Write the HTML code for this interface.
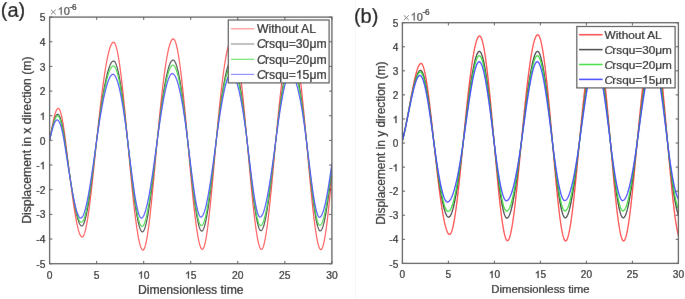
<!DOCTYPE html>
<html><head><meta charset="utf-8"><style>
html,body{margin:0;padding:0;background:#fff;}
body{width:685px;height:299px;overflow:hidden;position:relative;}
svg{position:absolute;left:0;top:0;will-change:transform;}
text{font-family:"Liberation Sans", sans-serif;fill:#1c1c1c;}
.t text, text.t{stroke:#1c1c1c;stroke-width:0.22px;}
</style></head><body>
<svg width="685" height="299" viewBox="0 0 685 299">
<defs><filter id="soft" x="0" y="0" width="685" height="299" filterUnits="userSpaceOnUse"><feConvolveMatrix order="3" kernelMatrix="0.005 0.035 0.005 0.035 0.84 0.035 0.005 0.035 0.005" edgeMode="duplicate" preserveAlpha="true"/></filter></defs>
<g filter="url(#soft)">
<rect x="0" y="0" width="685" height="299" fill="#fff"/>
<rect x="355" y="0" width="1" height="299" fill="#f6f6f6"/>
<clipPath id="cL"><rect x="49.6" y="17.1" width="282.30" height="246.60"/></clipPath>
<g clip-path="url(#cL)" fill="none" stroke-width="1.15" stroke-linejoin="round">
<polyline stroke="#ff4a4a" points="49.60,140.40 50.07,137.76 50.54,135.13 51.01,132.55 51.48,130.02 51.95,127.56 52.42,125.17 52.89,122.89 53.36,120.71 53.83,118.67 54.30,116.76 54.78,115.01 55.25,113.43 55.72,112.04 56.19,110.84 56.66,109.86 57.13,109.11 57.60,108.61 58.07,108.36 58.54,108.40 59.01,108.76 59.48,109.44 59.95,110.42 60.42,111.69 60.89,113.25 61.36,115.08 61.83,117.17 62.30,119.51 62.77,122.09 63.24,124.89 63.72,127.91 64.19,131.14 64.66,134.56 65.13,138.16 65.60,141.92 66.07,145.73 66.54,149.57 67.01,153.42 67.48,157.27 67.95,161.12 68.42,164.96 68.89,168.79 69.36,172.59 69.83,176.35 70.30,180.08 70.77,183.75 71.24,187.37 71.71,190.92 72.18,194.40 72.65,197.80 73.12,201.12 73.60,204.34 74.07,207.45 74.54,210.45 75.01,213.34 75.48,216.10 75.95,218.72 76.42,221.20 76.89,223.53 77.36,225.71 77.83,227.72 78.30,229.55 78.77,231.21 79.24,232.67 79.71,233.94 80.18,235.00 80.65,235.86 81.12,236.49 81.59,236.89 82.06,237.06 82.53,236.97 83.01,236.57 83.48,235.88 83.95,234.91 84.42,233.66 84.89,232.16 85.36,230.40 85.83,228.40 86.30,226.18 86.77,223.73 87.24,221.07 87.71,218.22 88.18,215.18 88.65,211.96 89.12,208.57 89.59,205.03 90.06,201.35 90.53,197.53 91.00,193.58 91.47,189.52 91.94,185.36 92.42,181.11 92.89,176.77 93.36,172.36 93.83,167.89 94.30,163.38 94.77,158.82 95.24,154.23 95.71,149.62 96.18,145.01 96.65,140.40 97.12,135.82 97.59,131.31 98.06,126.86 98.53,122.48 99.00,118.17 99.47,113.94 99.94,109.79 100.41,105.72 100.88,101.75 101.35,97.86 101.83,94.07 102.30,90.39 102.77,86.81 103.24,83.33 103.71,79.97 104.18,76.72 104.65,73.60 105.12,70.60 105.59,67.73 106.06,64.98 106.53,62.38 107.00,59.91 107.47,57.59 107.94,55.42 108.41,53.39 108.88,51.52 109.35,49.82 109.82,48.27 110.29,46.89 110.76,45.68 111.24,44.65 111.71,43.80 112.18,43.13 112.65,42.64 113.12,42.35 113.59,42.25 114.06,42.41 114.53,42.87 115.00,43.62 115.47,44.65 115.94,45.96 116.41,47.54 116.88,49.38 117.35,51.46 117.82,53.78 118.29,56.33 118.76,59.10 119.23,62.08 119.70,65.27 120.17,68.65 120.65,72.21 121.12,75.94 121.59,79.84 122.06,83.90 122.53,88.11 123.00,92.45 123.47,96.92 123.94,101.51 124.41,106.21 124.88,111.02 125.35,115.91 125.82,120.89 126.29,125.94 126.76,131.06 127.23,136.23 127.70,141.45 128.17,146.66 128.64,151.84 129.11,156.98 129.58,162.07 130.06,167.10 130.53,172.06 131.00,176.96 131.47,181.76 131.94,186.48 132.41,191.09 132.88,195.60 133.35,199.99 133.82,204.25 134.29,208.38 134.76,212.37 135.23,216.21 135.70,219.88 136.17,223.39 136.64,226.72 137.11,229.87 137.58,232.82 138.05,235.58 138.52,238.12 138.99,240.44 139.47,242.53 139.94,244.39 140.41,246.01 140.88,247.37 141.35,248.47 141.82,249.30 142.29,249.85 142.76,250.11 143.23,250.07 143.70,249.67 144.17,248.92 144.64,247.83 145.11,246.42 145.58,244.70 146.05,242.68 146.52,240.38 146.99,237.80 147.46,234.97 147.93,231.89 148.40,228.58 148.88,225.06 149.35,221.32 149.82,217.40 150.29,213.30 150.76,209.03 151.23,204.61 151.70,200.06 152.17,195.37 152.64,190.58 153.11,185.68 153.58,180.70 154.05,175.65 154.52,170.54 154.99,165.38 155.46,160.19 155.93,154.98 156.40,149.76 156.87,144.55 157.34,139.37 157.81,134.24 158.29,129.21 158.76,124.26 159.23,119.41 159.70,114.66 160.17,110.02 160.64,105.48 161.11,101.05 161.58,96.74 162.05,92.55 162.52,88.49 162.99,84.55 163.46,80.75 163.93,77.08 164.40,73.56 164.87,70.17 165.34,66.94 165.81,63.86 166.28,60.94 166.75,58.18 167.22,55.59 167.70,53.16 168.17,50.91 168.64,48.84 169.11,46.95 169.58,45.24 170.05,43.73 170.52,42.41 170.99,41.29 171.46,40.37 171.93,39.66 172.40,39.16 172.87,38.87 173.34,38.81 173.81,39.02 174.28,39.52 174.75,40.30 175.22,41.36 175.69,42.68 176.16,44.26 176.63,46.10 177.11,48.17 177.58,50.48 178.05,53.01 178.52,55.76 178.99,58.72 179.46,61.88 179.93,65.23 180.40,68.77 180.87,72.48 181.34,76.36 181.81,80.40 182.28,84.58 182.75,88.92 183.22,93.38 183.69,97.97 184.16,102.69 184.63,107.50 185.10,112.43 185.57,117.44 186.04,122.54 186.52,127.72 186.99,132.96 187.46,138.26 187.93,143.61 188.40,148.94 188.87,154.24 189.34,159.49 189.81,164.70 190.28,169.85 190.75,174.93 191.22,179.92 191.69,184.83 192.16,189.63 192.63,194.32 193.10,198.90 193.57,203.34 194.04,207.64 194.51,211.78 194.98,215.77 195.45,219.58 195.93,223.22 196.40,226.66 196.87,229.90 197.34,232.93 197.81,235.73 198.28,238.31 198.75,240.64 199.22,242.72 199.69,244.54 200.16,246.08 200.63,247.35 201.10,248.32 201.57,248.98 202.04,249.34 202.51,249.37 202.98,249.02 203.45,248.30 203.92,247.23 204.39,245.81 204.86,244.07 205.34,242.01 205.81,239.65 206.28,237.01 206.75,234.10 207.22,230.94 207.69,227.53 208.16,223.89 208.63,220.05 209.10,216.00 209.57,211.78 210.04,207.38 210.51,202.83 210.98,198.14 211.45,193.32 211.92,188.40 212.39,183.37 212.86,178.27 213.33,173.10 213.80,167.87 214.27,162.61 214.75,157.32 215.22,152.02 215.69,146.73 216.16,141.45 216.63,136.23 217.10,131.09 217.57,126.05 218.04,121.11 218.51,116.27 218.98,111.54 219.45,106.92 219.92,102.42 220.39,98.04 220.86,93.78 221.33,89.64 221.80,85.64 222.27,81.77 222.74,78.04 223.21,74.45 223.68,71.02 224.16,67.73 224.63,64.59 225.10,61.62 225.57,58.81 226.04,56.17 226.51,53.69 226.98,51.39 227.45,49.27 227.92,47.34 228.39,45.59 228.86,44.03 229.33,42.67 229.80,41.50 230.27,40.54 230.74,39.79 231.21,39.24 231.68,38.91 232.15,38.80 232.62,38.94 233.09,39.34 233.57,40.00 234.04,40.92 234.51,42.08 234.98,43.49 235.45,45.12 235.92,46.99 236.39,49.07 236.86,51.37 237.33,53.88 237.80,56.58 238.27,59.48 238.74,62.57 239.21,65.84 239.68,69.28 240.15,72.89 240.62,76.65 241.09,80.58 241.56,84.65 242.03,88.86 242.50,93.20 242.98,97.67 243.45,102.26 243.92,106.97 244.39,111.78 244.86,116.69 245.33,121.70 245.80,126.79 246.27,131.97 246.74,137.22 247.21,142.53 247.68,147.85 248.15,153.16 248.62,158.44 249.09,163.68 249.56,168.88 250.03,174.02 250.50,179.08 250.97,184.06 251.44,188.95 251.91,193.74 252.39,198.40 252.86,202.94 253.33,207.33 253.80,211.58 254.27,215.66 254.74,219.56 255.21,223.28 255.68,226.80 256.15,230.11 256.62,233.20 257.09,236.06 257.56,238.67 258.03,241.03 258.50,243.12 258.97,244.93 259.44,246.45 259.91,247.67 260.38,248.57 260.85,249.15 261.32,249.39 261.80,249.28 262.27,248.83 262.74,248.03 263.21,246.91 263.68,245.48 264.15,243.74 264.62,241.72 265.09,239.42 265.56,236.86 266.03,234.05 266.50,231.01 266.97,227.73 267.44,224.25 267.91,220.56 268.38,216.69 268.85,212.64 269.32,208.43 269.79,204.06 270.26,199.56 270.73,194.94 271.21,190.20 271.68,185.36 272.15,180.43 272.62,175.43 273.09,170.37 273.56,165.25 274.03,160.10 274.50,154.92 274.97,149.73 275.44,144.54 275.91,139.37 276.38,134.25 276.85,129.21 277.32,124.26 277.79,119.40 278.26,114.64 278.73,109.97 279.20,105.41 279.67,100.96 280.14,96.63 280.62,92.41 281.09,88.31 281.56,84.35 282.03,80.51 282.50,76.81 282.97,73.26 283.44,69.85 283.91,66.59 284.38,63.49 284.85,60.55 285.32,57.77 285.79,55.16 286.26,52.73 286.73,50.48 287.20,48.41 287.67,46.53 288.14,44.84 288.61,43.35 289.08,42.06 289.55,40.98 290.03,40.11 290.50,39.46 290.97,39.03 291.44,38.82 291.91,38.85 292.38,39.15 292.85,39.72 293.32,40.55 293.79,41.64 294.26,42.97 294.73,44.54 295.20,46.35 295.67,48.38 296.14,50.63 296.61,53.09 297.08,55.76 297.55,58.62 298.02,61.68 298.49,64.92 298.96,68.34 299.44,71.93 299.91,75.68 300.38,79.59 300.85,83.65 301.32,87.85 301.79,92.18 302.26,96.65 302.73,101.24 303.20,105.94 303.67,110.74 304.14,115.65 304.61,120.66 305.08,125.75 305.55,130.92 306.02,136.16 306.49,141.47 306.96,146.79 307.43,152.10 307.90,157.38 308.38,162.63 308.85,167.83 309.32,172.97 309.79,178.04 310.26,183.03 310.73,187.92 311.20,192.71 311.67,197.39 312.14,201.94 312.61,206.36 313.08,210.62 313.55,214.73 314.02,218.67 314.49,222.42 314.96,225.98 315.43,229.34 315.90,232.48 316.37,235.39 316.84,238.07 317.31,240.50 317.78,242.66 318.26,244.56 318.73,246.17 319.20,247.49 319.67,248.51 320.14,249.21 320.61,249.58 321.08,249.61 321.55,249.28 322.02,248.59 322.49,247.55 322.96,246.17 323.43,244.48 323.90,242.49 324.37,240.20 324.84,237.63 325.31,234.81 325.78,231.72 326.25,228.41 326.72,224.86 327.19,221.11 327.67,217.16 328.14,213.03 328.61,208.73 329.08,204.27 329.55,199.67 330.02,194.95 330.49,190.10 330.96,185.16 331.43,180.12 331.90,175.01"/>
<polyline stroke="#454545" points="49.60,140.40 50.07,138.07 50.54,135.76 51.01,133.50 51.48,131.30 51.95,129.16 52.42,127.12 52.89,125.17 53.36,123.33 53.83,121.63 54.30,120.06 54.78,118.65 55.25,117.41 55.72,116.36 56.19,115.50 56.66,114.86 57.13,114.44 57.60,114.27 58.07,114.34 58.54,114.67 59.01,115.24 59.48,116.05 59.95,117.10 60.42,118.37 60.89,119.87 61.36,121.58 61.83,123.50 62.30,125.62 62.77,127.95 63.24,130.47 63.72,133.17 64.19,136.06 64.66,139.13 65.13,142.34 65.60,145.59 66.07,148.88 66.54,152.18 67.01,155.49 67.48,158.82 67.95,162.14 68.42,165.45 68.89,168.75 69.36,172.02 69.83,175.27 70.30,178.47 70.77,181.64 71.24,184.75 71.71,187.81 72.18,190.80 72.65,193.71 73.12,196.55 73.60,199.30 74.07,201.96 74.54,204.52 75.01,206.97 75.48,209.30 75.95,211.52 76.42,213.60 76.89,215.55 77.36,217.35 77.83,219.00 78.30,220.50 78.77,221.83 79.24,222.99 79.71,223.97 80.18,224.76 80.65,225.36 81.12,225.76 81.59,225.95 82.06,225.92 82.53,225.63 83.01,225.09 83.48,224.29 83.95,223.27 84.42,222.01 84.89,220.54 85.36,218.86 85.83,216.98 86.30,214.91 86.77,212.66 87.24,210.24 87.71,207.66 88.18,204.93 88.65,202.05 89.12,199.05 89.59,195.91 90.06,192.67 90.53,189.31 91.00,185.86 91.47,182.33 91.94,178.72 92.42,175.04 92.89,171.30 93.36,167.51 93.83,163.68 94.30,159.82 94.77,155.94 95.24,152.05 95.71,148.16 96.18,144.27 96.65,140.40 97.12,136.57 97.59,132.81 98.06,129.11 98.53,125.48 99.00,121.92 99.47,118.44 99.94,115.03 100.41,111.70 100.88,108.46 101.35,105.29 101.83,102.22 102.30,99.23 102.77,96.34 103.24,93.54 103.71,90.83 104.18,88.23 104.65,85.73 105.12,83.33 105.59,81.04 106.06,78.86 106.53,76.79 107.00,74.84 107.47,73.01 107.94,71.29 108.41,69.70 108.88,68.23 109.35,66.89 109.82,65.68 110.29,64.60 110.76,63.66 111.24,62.86 111.71,62.19 112.18,61.67 112.65,61.30 113.12,61.07 113.59,60.99 114.06,61.11 114.53,61.47 115.00,62.06 115.47,62.87 115.94,63.89 116.41,65.13 116.88,66.57 117.35,68.21 117.82,70.04 118.29,72.05 118.76,74.24 119.23,76.61 119.70,79.14 120.17,81.83 120.65,84.67 121.12,87.66 121.59,90.79 122.06,94.05 122.53,97.44 123.00,100.95 123.47,104.57 123.94,108.30 124.41,112.14 124.88,116.07 125.35,120.08 125.82,124.18 126.29,128.36 126.76,132.60 127.23,136.91 127.70,141.28 128.17,145.65 128.64,150.02 129.11,154.36 129.58,158.68 130.06,162.96 130.53,167.19 131.00,171.36 131.47,175.47 131.94,179.51 132.41,183.46 132.88,187.32 133.35,191.09 133.82,194.74 134.29,198.28 134.76,201.69 135.23,204.96 135.70,208.09 136.17,211.07 136.64,213.89 137.11,216.53 137.58,219.00 138.05,221.28 138.52,223.36 138.99,225.24 139.47,226.90 139.94,228.34 140.41,229.55 140.88,230.51 141.35,231.23 141.82,231.69 142.29,231.88 142.76,231.80 143.23,231.43 143.70,230.80 144.17,229.91 144.64,228.77 145.11,227.38 145.58,225.77 146.05,223.94 146.52,221.90 146.99,219.66 147.46,217.22 147.93,214.61 148.40,211.83 148.88,208.88 149.35,205.79 149.82,202.55 150.29,199.18 150.76,195.69 151.23,192.09 151.70,188.38 152.17,184.59 152.64,180.71 153.11,176.76 153.58,172.75 154.05,168.68 154.52,164.57 154.99,160.43 155.46,156.27 155.93,152.09 156.40,147.90 156.87,143.73 157.34,139.57 157.81,135.47 158.29,131.43 158.76,127.47 159.23,123.59 159.70,119.79 160.17,116.08 160.64,112.45 161.11,108.91 161.58,105.47 162.05,102.13 162.52,98.88 162.99,95.75 163.46,92.72 163.93,89.80 164.40,87.00 164.87,84.31 165.34,81.75 165.81,79.31 166.28,77.00 166.75,74.83 167.22,72.78 167.70,70.88 168.17,69.12 168.64,67.50 169.11,66.03 169.58,64.71 170.05,63.55 170.52,62.55 170.99,61.70 171.46,61.03 171.93,60.52 172.40,60.18 172.87,60.02 173.34,60.05 173.81,60.28 174.28,60.73 174.75,61.38 175.22,62.23 175.69,63.27 176.16,64.51 176.63,65.93 177.11,67.53 177.58,69.31 178.05,71.25 178.52,73.37 178.99,75.64 179.46,78.07 179.93,80.66 180.40,83.38 180.87,86.26 181.34,89.26 181.81,92.40 182.28,95.67 182.75,99.06 183.22,102.57 183.69,106.19 184.16,109.92 184.63,113.75 185.10,117.68 185.57,121.71 186.04,125.82 186.52,130.02 186.99,134.29 187.46,138.64 187.93,143.05 188.40,147.47 188.87,151.90 189.34,156.31 189.81,160.70 190.28,165.05 190.75,169.36 191.22,173.62 191.69,177.81 192.16,181.92 192.63,185.94 193.10,189.87 193.57,193.68 194.04,197.37 194.51,200.94 194.98,204.36 195.45,207.62 195.93,210.72 196.40,213.65 196.87,216.39 197.34,218.93 197.81,221.26 198.28,223.38 198.75,225.26 199.22,226.90 199.69,228.30 200.16,229.42 200.63,230.28 201.10,230.85 201.57,231.12 202.04,231.10 202.51,230.77 202.98,230.17 203.45,229.29 203.92,228.14 204.39,226.75 204.86,225.12 205.34,223.25 205.81,221.17 206.28,218.88 206.75,216.39 207.22,213.71 207.69,210.85 208.16,207.83 208.63,204.65 209.10,201.33 209.57,197.87 210.04,194.29 210.51,190.59 210.98,186.79 211.45,182.90 211.92,178.93 212.39,174.88 212.86,170.78 213.33,166.63 213.80,162.43 214.27,158.21 214.75,153.97 215.22,149.72 215.69,145.48 216.16,141.24 216.63,137.05 217.10,132.93 217.57,128.88 218.04,124.92 218.51,121.04 218.98,117.24 219.45,113.54 219.92,109.93 220.39,106.41 220.86,103.00 221.33,99.69 221.80,96.48 222.27,93.39 222.74,90.41 223.21,87.55 223.68,84.81 224.16,82.20 224.63,79.71 225.10,77.35 225.57,75.13 226.04,73.04 226.51,71.10 226.98,69.30 227.45,67.65 227.92,66.15 228.39,64.81 228.86,63.62 229.33,62.60 229.80,61.74 230.27,61.05 230.74,60.53 231.21,60.19 231.68,60.02 232.15,60.04 232.62,60.25 233.09,60.65 233.57,61.24 234.04,62.00 234.51,62.94 234.98,64.05 235.45,65.34 235.92,66.79 236.39,68.40 236.86,70.17 237.33,72.10 237.80,74.18 238.27,76.41 238.74,78.78 239.21,81.30 239.68,83.95 240.15,86.74 240.62,89.65 241.09,92.69 241.56,95.86 242.03,99.15 242.50,102.55 242.98,106.06 243.45,109.69 243.92,113.41 244.39,117.24 244.86,121.17 245.33,125.19 245.80,129.31 246.27,133.51 246.74,137.79 247.21,142.15 247.68,146.55 248.15,150.96 248.62,155.37 249.09,159.77 249.56,164.15 250.03,168.49 250.50,172.79 250.97,177.03 251.44,181.20 251.91,185.28 252.39,189.27 252.86,193.15 253.33,196.91 253.80,200.53 254.27,204.02 254.74,207.34 255.21,210.49 255.68,213.47 256.15,216.25 256.62,218.82 257.09,221.17 257.56,223.29 258.03,225.17 258.50,226.80 258.97,228.15 259.44,229.23 259.91,230.01 260.38,230.49 260.85,230.66 261.32,230.52 261.80,230.12 262.27,229.47 262.74,228.57 263.21,227.43 263.68,226.07 264.15,224.48 264.62,222.69 265.09,220.69 265.56,218.50 266.03,216.13 266.50,213.58 266.97,210.86 267.44,207.99 267.91,204.97 268.38,201.81 268.85,198.52 269.32,195.11 269.79,191.59 270.26,187.96 270.73,184.24 271.21,180.43 271.68,176.54 272.15,172.59 272.62,168.57 273.09,164.51 273.56,160.41 274.03,156.27 274.50,152.10 274.97,147.93 275.44,143.74 275.91,139.57 276.38,135.43 276.85,131.35 277.32,127.34 277.79,123.40 278.26,119.54 278.73,115.76 279.20,112.06 279.67,108.45 280.14,104.93 280.62,101.51 281.09,98.19 281.56,94.98 282.03,91.88 282.50,88.89 282.97,86.02 283.44,83.28 283.91,80.67 284.38,78.19 284.85,75.85 285.32,73.65 285.79,71.60 286.26,69.70 286.73,67.96 287.20,66.37 287.67,64.95 288.14,63.70 288.61,62.63 289.08,61.73 289.55,61.02 290.03,60.49 290.50,60.15 290.97,60.01 291.44,60.07 291.91,60.31 292.38,60.73 292.85,61.33 293.32,62.10 293.79,63.04 294.26,64.15 294.73,65.43 295.20,66.87 295.67,68.46 296.14,70.21 296.61,72.11 297.08,74.16 297.55,76.36 298.02,78.70 298.49,81.17 298.96,83.78 299.44,86.52 299.91,89.39 300.38,92.39 300.85,95.51 301.32,98.75 301.79,102.10 302.26,105.56 302.73,109.14 303.20,112.82 303.67,116.60 304.14,120.49 304.61,124.46 305.08,128.53 305.55,132.70 306.02,136.94 306.49,141.27 306.96,145.65 307.43,150.04 307.90,154.45 308.38,158.85 308.85,163.23 309.32,167.59 309.79,171.90 310.26,176.16 310.73,180.35 311.20,184.46 311.67,188.49 312.14,192.40 312.61,196.20 313.08,199.87 313.55,203.40 314.02,206.77 314.49,209.98 314.96,213.01 315.43,215.84 315.90,218.48 316.37,220.89 316.84,223.07 317.31,225.02 317.78,226.71 318.26,228.13 318.73,229.27 319.20,230.12 319.67,230.67 320.14,230.90 320.61,230.81 321.08,230.45 321.55,229.83 322.02,228.95 322.49,227.82 322.96,226.46 323.43,224.87 323.90,223.06 324.37,221.04 324.84,218.82 325.31,216.41 325.78,213.83 326.25,211.07 326.72,208.15 327.19,205.07 327.67,201.86 328.14,198.51 328.61,195.04 329.08,191.45 329.55,187.76 330.02,183.97 330.49,180.10 330.96,176.15 331.43,172.13 331.90,168.06"/>
<polyline stroke="#42dd42" points="49.60,140.40 50.07,138.19 50.54,135.99 51.01,133.83 51.48,131.72 51.95,129.67 52.42,127.71 52.89,125.84 53.36,124.08 53.83,122.45 54.30,120.95 54.78,119.62 55.25,118.45 55.72,117.48 56.19,116.70 56.66,116.15 57.13,115.82 57.60,115.75 58.07,115.92 58.54,116.35 59.01,117.02 59.48,117.93 59.95,119.07 60.42,120.43 60.89,122.00 61.36,123.79 61.83,125.78 62.30,127.97 62.77,130.35 63.24,132.92 63.72,135.66 64.19,138.57 64.66,141.64 65.13,144.76 65.60,147.91 66.07,151.08 66.54,154.26 67.01,157.45 67.48,160.63 67.95,163.81 68.42,166.97 68.89,170.11 69.36,173.23 69.83,176.30 70.30,179.34 70.77,182.33 71.24,185.26 71.71,188.13 72.18,190.94 72.65,193.66 73.12,196.31 73.60,198.87 74.07,201.33 74.54,203.69 75.01,205.94 75.48,208.08 75.95,210.09 76.42,211.97 76.89,213.72 77.36,215.33 77.83,216.78 78.30,218.08 78.77,219.22 79.24,220.19 79.71,220.98 80.18,221.59 80.65,222.01 81.12,222.23 81.59,222.25 82.06,222.04 82.53,221.59 83.01,220.91 83.48,220.02 83.95,218.93 84.42,217.63 84.89,216.14 85.36,214.47 85.83,212.62 86.30,210.60 86.77,208.43 87.24,206.10 87.71,203.63 88.18,201.03 88.65,198.30 89.12,195.45 89.59,192.49 90.06,189.43 90.53,186.27 91.00,183.03 91.47,179.71 91.94,176.32 92.42,172.87 92.89,169.37 93.36,165.82 93.83,162.23 94.30,158.62 94.77,154.98 95.24,151.34 95.71,147.68 96.18,144.04 96.65,140.40 97.12,136.80 97.59,133.26 98.06,129.78 98.53,126.36 99.00,123.00 99.47,119.72 99.94,116.51 100.41,113.36 100.88,110.30 101.35,107.31 101.83,104.41 102.30,101.59 102.77,98.85 103.24,96.21 103.71,93.66 104.18,91.20 104.65,88.84 105.12,86.58 105.59,84.42 106.06,82.36 106.53,80.42 107.00,78.58 107.47,76.86 107.94,75.25 108.41,73.76 108.88,72.39 109.35,71.15 109.82,70.03 110.29,69.04 110.76,68.18 111.24,67.46 111.71,66.87 112.18,66.42 112.65,66.12 113.12,65.95 113.59,65.94 114.06,66.14 114.53,66.54 115.00,67.14 115.47,67.94 115.94,68.93 116.41,70.11 116.88,71.47 117.35,73.01 117.82,74.73 118.29,76.60 118.76,78.65 119.23,80.84 119.70,83.19 120.17,85.68 120.65,88.32 121.12,91.09 121.59,93.99 122.06,97.02 122.53,100.16 123.00,103.42 123.47,106.80 123.94,110.27 124.41,113.85 124.88,117.52 125.35,121.28 125.82,125.12 126.29,129.04 126.76,133.04 127.23,137.10 127.70,141.23 128.17,145.38 128.64,149.53 129.11,153.66 129.58,157.78 130.06,161.86 130.53,165.91 131.00,169.91 131.47,173.85 131.94,177.71 132.41,181.51 132.88,185.21 133.35,188.82 133.82,192.32 134.29,195.71 134.76,198.97 135.23,202.10 135.70,205.08 136.17,207.91 136.64,210.58 137.11,213.07 137.58,215.38 138.05,217.50 138.52,219.42 138.99,221.13 139.47,222.62 139.94,223.88 140.41,224.90 140.88,225.68 141.35,226.19 141.82,226.44 142.29,226.42 142.76,226.14 143.23,225.63 143.70,224.89 144.17,223.92 144.64,222.73 145.11,221.34 145.58,219.75 146.05,217.97 146.52,216.01 146.99,213.88 147.46,211.57 147.93,209.11 148.40,206.51 148.88,203.76 149.35,200.88 149.82,197.87 150.29,194.75 150.76,191.52 151.23,188.19 151.70,184.77 152.17,181.27 152.64,177.69 153.11,174.05 153.58,170.34 154.05,166.59 154.52,162.80 154.99,158.97 155.46,155.12 155.93,151.25 156.40,147.37 156.87,143.50 157.34,139.63 157.81,135.80 158.29,132.04 158.76,128.34 159.23,124.71 159.70,121.15 160.17,117.66 160.64,114.25 161.11,110.93 161.58,107.69 162.05,104.54 162.52,101.49 162.99,98.53 163.46,95.67 163.93,92.91 164.40,90.27 164.87,87.73 165.34,85.31 165.81,83.01 166.28,80.83 166.75,78.78 167.22,76.86 167.70,75.07 168.17,73.41 168.64,71.90 169.11,70.53 169.58,69.31 170.05,68.23 170.52,67.32 170.99,66.56 171.46,65.97 171.93,65.54 172.40,65.27 172.87,65.19 173.34,65.28 173.81,65.57 174.28,66.03 174.75,66.68 175.22,67.51 175.69,68.50 176.16,69.67 176.63,71.00 177.11,72.50 177.58,74.15 178.05,75.96 178.52,77.91 178.99,80.02 179.46,82.26 179.93,84.65 180.40,87.17 180.87,89.83 181.34,92.61 181.81,95.51 182.28,98.54 182.75,101.69 183.22,104.94 183.69,108.31 184.16,111.78 184.63,115.36 185.10,119.03 185.57,122.80 186.04,126.65 186.52,130.60 186.99,134.63 187.46,138.74 187.93,142.91 188.40,147.11 188.87,151.32 189.34,155.53 189.81,159.72 190.28,163.89 190.75,168.02 191.22,172.10 191.69,176.12 192.16,180.07 192.63,183.93 193.10,187.70 193.57,191.36 194.04,194.90 194.51,198.31 194.98,201.57 195.45,204.68 195.93,207.63 196.40,210.39 196.87,212.97 197.34,215.34 197.81,217.50 198.28,219.44 198.75,221.14 199.22,222.59 199.69,223.78 200.16,224.70 200.63,225.33 201.10,225.67 201.57,225.70 202.04,225.47 202.51,224.98 202.98,224.26 203.45,223.30 203.92,222.11 204.39,220.71 204.86,219.10 205.34,217.29 205.81,215.29 206.28,213.11 206.75,210.76 207.22,208.25 207.69,205.58 208.16,202.76 208.63,199.81 209.10,196.73 209.57,193.54 210.04,190.23 210.51,186.82 210.98,183.31 211.45,179.73 211.92,176.07 212.39,172.34 212.86,168.55 213.33,164.72 213.80,160.84 214.27,156.94 214.75,153.01 215.22,149.07 215.69,145.13 216.16,141.19 216.63,137.27 217.10,133.42 217.57,129.63 218.04,125.91 218.51,122.26 218.98,118.69 219.45,115.20 219.92,111.79 220.39,108.47 220.86,105.24 221.33,102.11 221.80,99.08 222.27,96.15 222.74,93.33 223.21,90.62 223.68,88.02 224.16,85.54 224.63,83.19 225.10,80.96 225.57,78.86 226.04,76.90 226.51,75.07 226.98,73.39 227.45,71.85 227.92,70.46 228.39,69.22 228.86,68.15 229.33,67.23 229.80,66.48 230.27,65.89 230.74,65.48 231.21,65.25 231.68,65.19 232.15,65.31 232.62,65.59 233.09,66.03 233.57,66.64 234.04,67.40 234.51,68.31 234.98,69.38 235.45,70.59 235.92,71.96 236.39,73.46 236.86,75.11 237.33,76.90 237.80,78.82 238.27,80.88 238.74,83.07 239.21,85.39 239.68,87.84 240.15,90.40 240.62,93.09 241.09,95.90 241.56,98.83 242.03,101.87 242.50,105.02 242.98,108.28 243.45,111.64 243.92,115.11 244.39,118.67 244.86,122.34 245.33,126.10 245.80,129.96 246.27,133.90 246.74,137.94 247.21,142.05 247.68,146.22 248.15,150.40 248.62,154.60 249.09,158.80 249.56,162.99 250.03,167.15 250.50,171.27 250.97,175.34 251.44,179.34 251.91,183.27 252.39,187.10 252.86,190.83 253.33,194.44 253.80,197.92 254.27,201.26 254.74,204.44 255.21,207.45 255.68,210.28 256.15,212.92 256.62,215.35 257.09,217.55 257.56,219.52 258.03,221.25 258.50,222.71 258.97,223.90 259.44,224.80 259.91,225.41 260.38,225.70 260.85,225.68 261.32,225.41 261.80,224.92 262.27,224.19 262.74,223.25 263.21,222.10 263.68,220.75 264.15,219.20 264.62,217.46 265.09,215.55 265.56,213.46 266.03,211.21 266.50,208.80 266.97,206.25 267.44,203.55 267.91,200.72 268.38,197.76 268.85,194.69 269.32,191.51 269.79,188.22 270.26,184.84 270.73,181.37 271.21,177.82 271.68,174.19 272.15,170.51 272.62,166.76 273.09,162.97 273.56,159.14 274.03,155.27 274.50,151.38 274.97,147.46 275.44,143.54 275.91,139.62 276.38,135.72 276.85,131.89 277.32,128.11 277.79,124.39 278.26,120.74 278.73,117.16 279.20,113.66 279.67,110.25 280.14,106.91 280.62,103.67 281.09,100.53 281.56,97.49 282.03,94.55 282.50,91.73 282.97,89.01 283.44,86.42 283.91,83.96 284.38,81.62 284.85,79.42 285.32,77.36 285.79,75.44 286.26,73.67 286.73,72.05 287.20,70.59 287.67,69.30 288.14,68.17 288.61,67.22 289.08,66.44 289.55,65.85 290.03,65.44 290.50,65.22 290.97,65.20 291.44,65.34 291.91,65.65 292.38,66.11 292.85,66.72 293.32,67.49 293.79,68.40 294.26,69.46 294.73,70.67 295.20,72.02 295.67,73.51 296.14,75.14 296.61,76.90 297.08,78.80 297.55,80.83 298.02,82.99 298.49,85.27 298.96,87.68 299.44,90.21 299.91,92.86 300.38,95.62 300.85,98.51 301.32,101.50 301.79,104.61 302.26,107.82 302.73,111.14 303.20,114.56 303.67,118.08 304.14,121.71 304.61,125.43 305.08,129.24 305.55,133.15 306.02,137.14 306.49,141.22 306.96,145.36 307.43,149.53 307.90,153.72 308.38,157.91 308.85,162.10 309.32,166.26 309.79,170.39 310.26,174.46 310.73,178.48 311.20,182.42 311.67,186.27 312.14,190.02 312.61,193.66 313.08,197.16 313.55,200.52 314.02,203.73 314.49,206.77 314.96,209.63 315.43,212.28 315.90,214.74 316.37,216.96 316.84,218.96 317.31,220.70 317.78,222.18 318.26,223.38 318.73,224.30 319.20,224.91 319.67,225.20 320.14,225.19 320.61,224.92 321.08,224.42 321.55,223.70 322.02,222.76 322.49,221.60 322.96,220.25 323.43,218.70 323.90,216.96 324.37,215.04 324.84,212.95 325.31,210.70 325.78,208.28 326.25,205.72 326.72,203.02 327.19,200.18 327.67,197.22 328.14,194.14 328.61,190.94 329.08,187.64 329.55,184.25 330.02,180.77 330.49,177.21 330.96,173.57 331.43,169.87 331.90,166.11"/>
<polyline stroke="#4848ff" points="49.60,140.40 50.07,138.43 50.54,136.49 51.01,134.58 51.48,132.73 51.95,130.94 52.42,129.23 52.89,127.62 53.36,126.13 53.83,124.75 54.30,123.52 54.78,122.45 55.25,121.55 55.72,120.83 56.19,120.31 56.66,120.01 57.13,119.94 57.60,120.06 58.07,120.38 58.54,120.87 59.01,121.55 59.48,122.42 59.95,123.47 60.42,124.72 60.89,126.15 61.36,127.77 61.83,129.58 62.30,131.58 62.77,133.78 63.24,136.17 63.72,138.76 64.19,141.52 64.66,144.37 65.13,147.26 65.60,150.18 66.07,153.13 66.54,156.10 67.01,159.08 67.48,162.07 67.95,165.06 68.42,168.04 68.89,171.01 69.36,173.94 69.83,176.85 70.30,179.72 70.77,182.54 71.24,185.31 71.71,188.02 72.18,190.66 72.65,193.23 73.12,195.71 73.60,198.10 74.07,200.39 74.54,202.58 75.01,204.66 75.48,206.61 75.95,208.44 76.42,210.13 76.89,211.68 77.36,213.08 77.83,214.33 78.30,215.41 78.77,216.31 79.24,217.04 79.71,217.58 80.18,217.93 80.65,218.07 81.12,218.01 81.59,217.74 82.06,217.27 82.53,216.60 83.01,215.75 83.48,214.72 83.95,213.51 84.42,212.14 84.89,210.61 85.36,208.93 85.83,207.10 86.30,205.13 86.77,203.02 87.24,200.80 87.71,198.45 88.18,195.99 88.65,193.43 89.12,190.77 89.59,188.02 90.06,185.18 90.53,182.26 91.00,179.28 91.47,176.23 91.94,173.12 92.42,169.96 92.89,166.76 93.36,163.52 93.83,160.25 94.30,156.96 94.77,153.66 95.24,150.34 95.71,147.02 96.18,143.70 96.65,140.40 97.12,137.13 97.59,133.91 98.06,130.75 98.53,127.65 99.00,124.61 99.47,121.64 99.94,118.73 100.41,115.89 100.88,113.12 101.35,110.42 101.83,107.80 102.30,105.26 102.77,102.81 103.24,100.43 103.71,98.14 104.18,95.94 104.65,93.83 105.12,91.82 105.59,89.90 106.06,88.08 106.53,86.36 107.00,84.75 107.47,83.24 107.94,81.84 108.41,80.55 108.88,79.37 109.35,78.31 109.82,77.37 110.29,76.55 110.76,75.85 111.24,75.28 111.71,74.84 112.18,74.53 112.65,74.36 113.12,74.31 113.59,74.43 114.06,74.72 114.53,75.16 115.00,75.77 115.47,76.53 115.94,77.45 116.41,78.52 116.88,79.73 117.35,81.09 117.82,82.59 118.29,84.23 118.76,86.00 119.23,87.91 119.70,89.94 120.17,92.10 120.65,94.38 121.12,96.78 121.59,99.30 122.06,101.93 122.53,104.67 123.00,107.51 123.47,110.46 123.94,113.51 124.41,116.66 124.88,119.90 125.35,123.23 125.82,126.65 126.29,130.16 126.76,133.75 127.23,137.41 127.70,141.15 128.17,144.94 128.64,148.74 129.11,152.54 129.58,156.35 130.06,160.13 130.53,163.90 131.00,167.62 131.47,171.30 131.94,174.92 132.41,178.47 132.88,181.94 133.35,185.31 133.82,188.59 134.29,191.75 134.76,194.78 135.23,197.68 135.70,200.44 136.17,203.03 136.64,205.46 137.11,207.71 137.58,209.77 138.05,211.63 138.52,213.27 138.99,214.70 139.47,215.89 139.94,216.83 140.41,217.52 140.88,217.94 141.35,218.08 141.82,217.98 142.29,217.68 142.76,217.19 143.23,216.51 143.70,215.65 144.17,214.62 144.64,213.42 145.11,212.06 145.58,210.55 146.05,208.88 146.52,207.07 146.99,205.12 147.46,203.05 147.93,200.84 148.40,198.52 148.88,196.08 149.35,193.54 149.82,190.89 150.29,188.15 150.76,185.32 151.23,182.41 151.70,179.42 152.17,176.35 152.64,173.23 153.11,170.04 153.58,166.80 154.05,163.52 154.52,160.19 154.99,156.83 155.46,153.44 155.93,150.03 156.40,146.60 156.87,143.16 157.34,139.71 157.81,136.30 158.29,132.92 158.76,129.60 159.23,126.33 159.70,123.11 160.17,119.96 160.64,116.87 161.11,113.86 161.58,110.91 162.05,108.05 162.52,105.27 162.99,102.57 163.46,99.97 163.93,97.46 164.40,95.06 164.87,92.75 165.34,90.56 165.81,88.48 166.28,86.51 166.75,84.67 167.22,82.95 167.70,81.36 168.17,79.91 168.64,78.59 169.11,77.42 169.58,76.40 170.05,75.52 170.52,74.80 170.99,74.25 171.46,73.85 171.93,73.63 172.40,73.57 172.87,73.68 173.34,73.92 173.81,74.32 174.28,74.85 174.75,75.52 175.22,76.33 175.69,77.27 176.16,78.35 176.63,79.55 177.11,80.89 177.58,82.35 178.05,83.94 178.52,85.65 178.99,87.49 179.46,89.44 179.93,91.51 180.40,93.69 180.87,95.99 181.34,98.40 181.81,100.91 182.28,103.54 182.75,106.27 183.22,109.10 183.69,112.04 184.16,115.07 184.63,118.20 185.10,121.42 185.57,124.74 186.04,128.15 186.52,131.65 186.99,135.24 187.46,138.91 187.93,142.66 188.40,146.45 188.87,150.26 189.34,154.09 189.81,157.92 190.28,161.75 190.75,165.54 191.22,169.30 191.69,173.01 192.16,176.66 192.63,180.23 193.10,183.71 193.57,187.09 194.04,190.36 194.51,193.51 194.98,196.51 195.45,199.36 195.93,202.05 196.40,204.55 196.87,206.87 197.34,208.99 197.81,210.89 198.28,212.56 198.75,213.99 199.22,215.16 199.69,216.07 200.16,216.70 200.63,217.04 201.10,217.08 201.57,216.88 202.04,216.48 202.51,215.88 202.98,215.08 203.45,214.09 203.92,212.92 204.39,211.57 204.86,210.06 205.34,208.39 205.81,206.56 206.28,204.59 206.75,202.47 207.22,200.22 207.69,197.84 208.16,195.35 208.63,192.74 209.10,190.02 209.57,187.20 210.04,184.29 210.51,181.30 210.98,178.22 211.45,175.07 211.92,171.86 212.39,168.59 212.86,165.26 213.33,161.89 213.80,158.48 214.27,155.04 214.75,151.58 215.22,148.09 215.69,144.60 216.16,141.10 216.63,137.62 217.10,134.18 217.57,130.79 218.04,127.46 218.51,124.19 218.98,120.98 219.45,117.84 219.92,114.77 220.39,111.78 220.86,108.86 221.33,106.03 221.80,103.30 222.27,100.65 222.74,98.10 223.21,95.65 223.68,93.31 224.16,91.08 224.63,88.96 225.10,86.95 225.57,85.08 226.04,83.32 226.51,81.70 226.98,80.21 227.45,78.86 227.92,77.66 228.39,76.60 228.86,75.69 229.33,74.94 229.80,74.35 230.27,73.92 230.74,73.66 231.21,73.57 231.68,73.64 232.15,73.83 232.62,74.16 233.09,74.62 233.57,75.20 234.04,75.91 234.51,76.74 234.98,77.70 235.45,78.78 235.92,79.98 236.39,81.30 236.86,82.74 237.33,84.30 237.80,85.97 238.27,87.76 238.74,89.66 239.21,91.67 239.68,93.80 240.15,96.03 240.62,98.37 241.09,100.82 241.56,103.38 242.03,106.04 242.50,108.81 242.98,111.68 243.45,114.65 243.92,117.72 244.39,120.89 244.86,124.15 245.33,127.52 245.80,130.97 246.27,134.53 246.74,138.17 247.21,141.90 247.68,145.70 248.15,149.53 248.62,153.39 249.09,157.27 249.56,161.14 250.03,165.00 250.50,168.83 250.97,172.61 251.44,176.33 251.91,179.99 252.39,183.55 252.86,187.01 253.33,190.36 253.80,193.58 254.27,196.65 254.74,199.57 255.21,202.31 255.68,204.86 256.15,207.22 256.62,209.36 257.09,211.26 257.56,212.93 258.03,214.33 258.50,215.47 258.97,216.31 259.44,216.86 259.91,217.09 260.38,217.03 260.85,216.78 261.32,216.33 261.80,215.70 262.27,214.90 262.74,213.92 263.21,212.78 263.68,211.47 264.15,210.01 264.62,208.41 265.09,206.65 265.56,204.76 266.03,202.74 266.50,200.59 266.97,198.32 267.44,195.93 267.91,193.43 268.38,190.83 268.85,188.13 269.32,185.34 269.79,182.46 270.26,179.50 270.73,176.47 271.21,173.36 271.68,170.19 272.15,166.96 272.62,163.68 273.09,160.35 273.56,156.98 274.03,153.57 274.50,150.14 274.97,146.67 275.44,143.19 275.91,139.70 276.38,136.23 276.85,132.79 277.32,129.40 277.79,126.06 278.26,122.77 278.73,119.54 279.20,116.37 279.67,113.27 280.14,110.25 280.62,107.31 281.09,104.46 281.56,101.69 282.03,99.03 282.50,96.46 282.97,94.00 283.44,91.66 283.91,89.43 284.38,87.32 284.85,85.35 285.32,83.50 285.79,81.80 286.26,80.24 286.73,78.83 287.20,77.58 287.67,76.48 288.14,75.55 288.61,74.80 289.08,74.22 289.55,73.82 290.03,73.61 290.50,73.58 290.97,73.69 291.44,73.93 291.91,74.29 292.38,74.78 292.85,75.38 293.32,76.11 293.79,76.95 294.26,77.91 294.73,78.99 295.20,80.19 295.67,81.50 296.14,82.93 296.61,84.47 297.08,86.12 297.55,87.88 298.02,89.76 298.49,91.74 298.96,93.83 299.44,96.03 299.91,98.33 300.38,100.74 300.85,103.25 301.32,105.87 301.79,108.58 302.26,111.40 302.73,114.32 303.20,117.34 303.67,120.45 304.14,123.67 304.61,126.97 305.08,130.38 305.55,133.87 306.02,137.46 306.49,141.14 306.96,144.89 307.43,148.69 307.90,152.52 308.38,156.36 308.85,160.21 309.32,164.05 309.79,167.87 310.26,171.65 310.73,175.37 311.20,179.03 311.67,182.61 312.14,186.09 312.61,189.47 313.08,192.72 313.55,195.83 314.02,198.79 314.49,201.59 314.96,204.20 315.43,206.62 315.90,208.83 316.37,210.82 316.84,212.57 317.31,214.07 317.78,215.31 318.26,216.26 318.73,216.93 319.20,217.28 319.67,217.32 320.14,217.14 320.61,216.75 321.08,216.18 321.55,215.41 322.02,214.46 322.49,213.34 322.96,212.05 323.43,210.59 323.90,208.98 324.37,207.22 324.84,205.31 325.31,203.26 325.78,201.08 326.25,198.77 326.72,196.35 327.19,193.81 327.67,191.16 328.14,188.40 328.61,185.55 329.08,182.61 329.55,179.59 330.02,176.49 330.49,173.32 330.96,170.08 331.43,166.78 331.90,163.43"/>
</g>
<path d="M49.60 263.70v-2.8M49.60 17.10v2.8M96.65 263.70v-2.8M96.65 17.10v2.8M143.70 263.70v-2.8M143.70 17.10v2.8M190.75 263.70v-2.8M190.75 17.10v2.8M237.80 263.70v-2.8M237.80 17.10v2.8M284.85 263.70v-2.8M284.85 17.10v2.8M331.90 263.70v-2.8M331.90 17.10v2.8M49.60 263.70h2.8M331.90 263.70h-2.8M49.60 239.04h2.8M331.90 239.04h-2.8M49.60 214.38h2.8M331.90 214.38h-2.8M49.60 189.72h2.8M331.90 189.72h-2.8M49.60 165.06h2.8M331.90 165.06h-2.8M49.60 140.40h2.8M331.90 140.40h-2.8M49.60 115.74h2.8M331.90 115.74h-2.8M49.60 91.08h2.8M331.90 91.08h-2.8M49.60 66.42h2.8M331.90 66.42h-2.8M49.60 41.76h2.8M331.90 41.76h-2.8M49.60 17.10h2.8M331.90 17.10h-2.8" stroke="#555" stroke-width="1.0" fill="none"/>
<rect x="49.6" y="17.1" width="282.30" height="246.60" fill="none" stroke="#5c5c5c" stroke-width="1.3"/>
<g class="t" font-size="10.3">
<text id="Lx0" x="49.60" y="278.6" text-anchor="middle">0</text>
<text id="Lx1" x="96.65" y="278.6" text-anchor="middle">5</text>
<text id="Lx2" x="143.70" y="278.6" text-anchor="middle"> 0</text>
<text id="Lx3" x="190.75" y="278.6" text-anchor="middle"> 5</text>
<text id="Lx4" x="237.80" y="278.6" text-anchor="middle">20</text>
<text id="Lx5" x="284.85" y="278.6" text-anchor="middle">25</text>
<text id="Lx6" x="331.90" y="278.6" text-anchor="middle">30</text>
<text id="Ly0" x="45.50" y="267.80" text-anchor="end">-5</text>
<text id="Ly1" x="45.50" y="243.14" text-anchor="end">-4</text>
<text id="Ly2" x="45.50" y="218.48" text-anchor="end">-3</text>
<text id="Ly3" x="45.50" y="193.82" text-anchor="end">-2</text>
<text id="Ly4" x="45.50" y="169.16" text-anchor="end">- </text>
<text id="Ly5" x="45.50" y="144.50" text-anchor="end">0</text>
<text id="Ly6" x="45.50" y="119.84" text-anchor="end"> </text>
<text id="Ly7" x="45.50" y="95.18" text-anchor="end">2</text>
<text id="Ly8" x="45.50" y="70.52" text-anchor="end">3</text>
<text id="Ly9" x="45.50" y="45.86" text-anchor="end">4</text>
<text id="Ly10" x="45.50" y="21.20" text-anchor="end">5</text>
</g>
<path d="M50.9 9.7L55.8 14.5M55.8 9.7L50.9 14.5" stroke="#666" stroke-width="0.85" fill="none"/>
<text id="Le" class="t" x="57.6" y="14.8" font-size="11" style="fill:#505050"> 0</text>
<text class="t" x="69.4" y="9.7" font-size="8.2" style="fill:#333">-6</text>
<text class="t" x="190.75" y="294.0" text-anchor="middle" font-size="12.2">Dimensionless time</text>
<text class="t" transform="translate(31.3,140.1) rotate(-90)" text-anchor="middle" font-size="12.2">Displacement in x direction (m)</text>
<rect x="228.3" y="20.0" width="100.80" height="62.90" fill="#fff" stroke="#555" stroke-width="1.2"/>
<g class="t" font-size="12.2">
<line x1="230.8" x2="254.3" y1="28.8" y2="28.8" stroke="#ff8080" stroke-width="1.1"/>
<text id="Ll0" x="257.0" y="33.20">Without AL</text>
<line x1="230.8" x2="254.3" y1="44.0" y2="44.0" stroke="#8c8c8c" stroke-width="1.1"/>
<text id="Ll1" x="257.0" y="48.40"><tspan font-style="italic" font-size=" 3.42">C</tspan><tspan dx="-0.8">rsqu=30μm</tspan></text>
<line x1="230.8" x2="254.3" y1="59.3" y2="59.3" stroke="#5ee05e" stroke-width="1.1"/>
<text id="Ll2" x="257.0" y="63.70"><tspan font-style="italic" font-size=" 3.42">C</tspan><tspan dx="-0.8">rsqu=20μm</tspan></text>
<line x1="230.8" x2="254.3" y1="74.4" y2="74.4" stroke="#8080ff" stroke-width="1.1"/>
<text id="Ll3" x="257.0" y="78.80"><tspan font-style="italic" font-size=" 3.42">C</tspan><tspan dx="-0.8">rsqu= 5μm</tspan></text>
</g>
<text class="t" x="0.8" y="16.6" font-size="20" style="fill:#111">(a)</text>
<clipPath id="cR"><rect x="402.4" y="22.7" width="276.00" height="240.70"/></clipPath>
<g clip-path="url(#cR)" fill="none" stroke-width="1.25" stroke-linejoin="round">
<polyline stroke="#ff3a3a" points="402.40,140.64 402.86,138.90 403.32,137.05 403.78,135.10 404.24,133.06 404.70,130.94 405.16,128.74 405.62,126.47 406.08,124.13 406.54,121.75 407.00,119.32 407.46,116.85 407.92,114.35 408.38,111.83 408.84,109.29 409.30,106.75 409.76,104.20 410.22,101.67 410.68,99.15 411.14,96.66 411.60,94.19 412.06,91.77 412.52,89.39 412.98,87.07 413.44,84.81 413.90,82.61 414.36,80.50 414.82,78.47 415.28,76.54 415.74,74.71 416.20,72.98 416.66,71.37 417.12,69.89 417.58,68.54 418.04,67.33 418.50,66.26 418.96,65.35 419.42,64.60 419.88,64.03 420.34,63.63 420.80,63.41 421.26,63.40 421.72,63.67 422.18,64.22 422.64,65.04 423.10,66.13 423.56,67.47 424.02,69.06 424.48,70.88 424.94,72.92 425.40,75.17 425.86,77.63 426.32,80.28 426.78,83.11 427.24,86.12 427.70,89.28 428.16,92.60 428.62,96.06 429.08,99.64 429.54,103.35 430.00,107.17 430.46,111.09 430.92,115.10 431.38,119.18 431.84,123.34 432.30,127.55 432.76,131.81 433.22,136.12 433.68,140.44 434.14,144.79 434.60,149.10 435.06,153.37 435.52,157.58 435.98,161.75 436.44,165.85 436.90,169.89 437.36,173.85 437.82,177.74 438.28,181.55 438.74,185.27 439.20,188.90 439.66,192.43 440.12,195.86 440.58,199.18 441.04,202.38 441.50,205.47 441.96,208.43 442.42,211.26 442.88,213.96 443.34,216.51 443.80,218.92 444.26,221.18 444.72,223.28 445.18,225.22 445.64,226.99 446.10,228.58 446.56,230.00 447.02,231.24 447.48,232.29 447.94,233.14 448.40,233.79 448.86,234.24 449.32,234.48 449.78,234.49 450.24,234.22 450.70,233.65 451.16,232.80 451.62,231.67 452.08,230.27 452.54,228.62 453.00,226.73 453.46,224.60 453.92,222.24 454.38,219.67 454.84,216.90 455.30,213.92 455.76,210.77 456.22,207.43 456.68,203.93 457.14,200.27 457.60,196.47 458.06,192.53 458.52,188.47 458.98,184.29 459.44,180.00 459.90,175.61 460.36,171.14 460.82,166.59 461.28,161.98 461.74,157.31 462.20,152.59 462.66,147.83 463.12,143.05 463.58,138.27 464.04,133.54 464.50,128.85 464.96,124.21 465.42,119.63 465.88,115.11 466.34,110.65 466.80,106.27 467.26,101.97 467.72,97.75 468.18,93.62 468.64,89.59 469.10,85.66 469.56,81.84 470.02,78.12 470.48,74.53 470.94,71.06 471.40,67.72 471.86,64.51 472.32,61.44 472.78,58.52 473.24,55.75 473.70,53.13 474.16,50.68 474.62,48.40 475.08,46.28 475.54,44.35 476.00,42.61 476.46,41.05 476.92,39.69 477.38,38.53 477.84,37.57 478.30,36.83 478.76,36.31 479.22,36.01 479.68,35.94 480.14,36.15 480.60,36.65 481.06,37.44 481.52,38.49 481.98,39.82 482.44,41.40 482.90,43.23 483.36,45.30 483.82,47.60 484.28,50.13 484.74,52.87 485.20,55.82 485.66,58.96 486.12,62.30 486.58,65.82 487.04,69.51 487.50,73.37 487.96,77.38 488.42,81.54 488.88,85.83 489.34,90.26 489.80,94.81 490.26,99.48 490.72,104.25 491.18,109.11 491.64,114.07 492.10,119.10 492.56,124.21 493.02,129.38 493.48,134.60 493.94,139.87 494.40,145.17 494.86,150.45 495.32,155.68 495.78,160.86 496.24,165.97 496.70,171.00 497.16,175.94 497.62,180.79 498.08,185.52 498.54,190.14 499.00,194.62 499.46,198.96 499.92,203.15 500.38,207.18 500.84,211.03 501.30,214.70 501.76,218.17 502.22,221.44 502.68,224.49 503.14,227.31 503.60,229.90 504.06,232.24 504.52,234.32 504.98,236.12 505.44,237.65 505.90,238.89 506.36,239.82 506.82,240.45 507.28,240.75 507.74,240.72 508.20,240.37 508.66,239.71 509.12,238.77 509.58,237.53 510.04,236.03 510.50,234.25 510.96,232.23 511.42,229.96 511.88,227.47 512.34,224.75 512.80,221.82 513.26,218.69 513.72,215.36 514.18,211.86 514.64,208.20 515.10,204.37 515.56,200.40 516.02,196.28 516.48,192.05 516.94,187.69 517.40,183.23 517.86,178.68 518.32,174.04 518.78,169.33 519.24,164.55 519.70,159.72 520.16,154.85 520.62,149.95 521.08,145.02 521.54,140.10 522.00,135.21 522.46,130.38 522.92,125.61 523.38,120.90 523.84,116.26 524.30,111.70 524.76,107.21 525.22,102.80 525.68,98.49 526.14,94.27 526.60,90.15 527.06,86.13 527.52,82.22 527.98,78.43 528.44,74.76 528.90,71.22 529.36,67.81 529.82,64.53 530.28,61.40 530.74,58.41 531.20,55.57 531.66,52.89 532.12,50.37 532.58,48.02 533.04,45.85 533.50,43.85 533.96,42.03 534.42,40.41 534.88,38.97 535.34,37.74 535.80,36.71 536.26,35.89 536.72,35.29 537.18,34.90 537.64,34.74 538.10,34.83 538.56,35.20 539.02,35.86 539.48,36.79 539.94,37.98 540.40,39.43 540.86,41.12 541.32,43.06 541.78,45.23 542.24,47.62 542.70,50.23 543.16,53.05 543.62,56.07 544.08,59.28 544.54,62.68 545.00,66.25 545.46,69.99 545.92,73.89 546.38,77.95 546.84,82.14 547.30,86.48 547.76,90.94 548.22,95.53 548.68,100.23 549.14,105.03 549.60,109.93 550.06,114.92 550.52,119.99 550.98,125.13 551.44,130.33 551.90,135.60 552.36,140.91 552.82,146.26 553.28,151.57 553.74,156.85 554.20,162.06 554.66,167.21 555.12,172.29 555.58,177.27 556.04,182.16 556.50,186.93 556.96,191.57 557.42,196.09 557.88,200.45 558.34,204.66 558.80,208.69 559.26,212.55 559.72,216.21 560.18,219.67 560.64,222.91 561.10,225.92 561.56,228.70 562.02,231.22 562.48,233.48 562.94,235.47 563.40,237.17 563.86,238.58 564.32,239.68 564.78,240.46 565.24,240.90 565.70,241.01 566.16,240.78 566.62,240.24 567.08,239.39 567.54,238.25 568.00,236.82 568.46,235.12 568.92,233.16 569.38,230.95 569.84,228.50 570.30,225.83 570.76,222.93 571.22,219.83 571.68,216.53 572.14,213.04 572.60,209.39 573.06,205.57 573.52,201.59 573.98,197.48 574.44,193.23 574.90,188.87 575.36,184.40 575.82,179.83 576.28,175.17 576.74,170.44 577.20,165.64 577.66,160.79 578.12,155.90 578.58,150.97 579.04,146.02 579.50,141.07 579.96,136.16 580.42,131.30 580.88,126.50 581.34,121.76 581.80,117.09 582.26,112.50 582.72,107.99 583.18,103.56 583.64,99.22 584.10,94.98 584.56,90.84 585.02,86.80 585.48,82.87 585.94,79.06 586.40,75.37 586.86,71.81 587.32,68.37 587.78,65.07 588.24,61.92 588.70,58.90 589.16,56.04 589.62,53.34 590.08,50.80 590.54,48.42 591.00,46.22 591.46,44.19 591.92,42.35 592.38,40.69 592.84,39.22 593.30,37.96 593.76,36.89 594.22,36.03 594.68,35.39 595.14,34.96 595.60,34.75 596.06,34.79 596.52,35.11 596.98,35.72 597.44,36.61 597.90,37.77 598.36,39.19 598.82,40.86 599.28,42.77 599.74,44.93 600.20,47.31 600.66,49.91 601.12,52.73 601.58,55.75 602.04,58.96 602.50,62.36 602.96,65.94 603.42,69.69 603.88,73.61 604.34,77.68 604.80,81.89 605.26,86.25 605.72,90.73 606.18,95.33 606.64,100.05 607.10,104.88 607.56,109.80 608.02,114.81 608.48,119.90 608.94,125.06 609.40,130.29 609.86,135.57 610.32,140.91 610.78,146.27 611.24,151.60 611.70,156.88 612.16,162.11 612.62,167.27 613.08,172.35 613.54,177.34 614.00,182.22 614.46,187.00 614.92,191.64 615.38,196.16 615.84,200.52 616.30,204.72 616.76,208.75 617.22,212.61 617.68,216.26 618.14,219.71 618.60,222.95 619.06,225.96 619.52,228.73 619.98,231.25 620.44,233.50 620.90,235.49 621.36,237.18 621.82,238.59 622.28,239.68 622.74,240.46 623.20,240.90 623.66,241.01 624.12,240.77 624.58,240.21 625.04,239.34 625.50,238.16 625.96,236.69 626.42,234.93 626.88,232.91 627.34,230.64 627.80,228.12 628.26,225.36 628.72,222.38 629.18,219.20 629.64,215.81 630.10,212.24 630.56,208.49 631.02,204.57 631.48,200.51 631.94,196.30 632.40,191.96 632.86,187.51 633.32,182.95 633.78,178.30 634.24,173.56 634.70,168.75 635.16,163.88 635.62,158.97 636.08,154.02 636.54,149.04 637.00,144.05 637.46,139.07 637.92,134.15 638.38,129.29 638.84,124.49 639.30,119.76 639.76,115.10 640.22,110.53 640.68,106.04 641.14,101.64 641.60,97.33 642.06,93.13 642.52,89.02 642.98,85.03 643.44,81.15 643.90,77.39 644.36,73.76 644.82,70.25 645.28,66.88 645.74,63.64 646.20,60.55 646.66,57.61 647.12,54.83 647.58,52.20 648.04,49.73 648.50,47.44 648.96,45.32 649.42,43.37 649.88,41.61 650.34,40.04 650.80,38.66 651.26,37.48 651.72,36.51 652.18,35.74 652.64,35.18 653.10,34.85 653.56,34.73 654.02,34.90 654.48,35.40 654.94,36.22 655.40,37.35 655.86,38.78 656.32,40.49 656.78,42.48 657.24,44.74 657.70,47.25 658.16,50.00 658.62,52.99 659.08,56.20 659.54,59.63 660.00,63.25 660.46,67.07 660.92,71.06 661.38,75.23 661.84,79.55 662.30,84.02 662.76,88.62 663.22,93.35 663.68,98.20 664.14,103.15 664.60,108.19 665.06,113.32 665.52,118.52 665.98,123.78 666.44,129.09 666.90,134.44 667.36,139.81 667.82,145.20 668.28,150.55 668.74,155.83 669.20,161.03 669.66,166.15 670.12,171.17 670.58,176.10 671.04,180.91 671.50,185.60 671.96,190.17 672.42,194.60 672.88,198.88 673.34,203.01 673.80,206.97 674.26,210.76 674.72,214.38 675.18,217.80 675.64,221.02 676.10,224.04 676.56,226.84 677.02,229.41 677.48,231.75 677.94,233.85 678.40,235.70"/>
<polyline stroke="#383838" points="402.40,140.64 402.86,138.85 403.32,136.97 403.78,135.01 404.24,132.98 404.70,130.88 405.16,128.73 405.62,126.52 406.08,124.26 406.54,121.97 407.00,119.64 407.46,117.29 407.92,114.93 408.38,112.55 408.84,110.17 409.30,107.80 409.76,105.44 410.22,103.09 410.68,100.77 411.14,98.48 411.60,96.24 412.06,94.03 412.52,91.89 412.98,89.80 413.44,87.78 413.90,85.83 414.36,83.97 414.82,82.19 415.28,80.52 415.74,78.94 416.20,77.47 416.66,76.12 417.12,74.90 417.58,73.80 418.04,72.84 418.50,72.03 418.96,71.37 419.42,70.87 419.88,70.53 420.34,70.37 420.80,70.40 421.26,70.68 421.72,71.19 422.18,71.93 422.64,72.89 423.10,74.07 423.56,75.45 424.02,77.03 424.48,78.80 424.94,80.74 425.40,82.86 425.86,85.14 426.32,87.58 426.78,90.16 427.24,92.88 427.70,95.74 428.16,98.71 428.62,101.79 429.08,104.98 429.54,108.27 430.00,111.64 430.46,115.09 430.92,118.62 431.38,122.20 431.84,125.85 432.30,129.53 432.76,133.25 433.22,137.01 433.68,140.78 434.14,144.56 434.60,148.31 435.06,152.02 435.52,155.68 435.98,159.28 436.44,162.83 436.90,166.31 437.36,169.72 437.82,173.06 438.28,176.31 438.74,179.48 439.20,182.56 439.66,185.55 440.12,188.43 440.58,191.21 441.04,193.88 441.50,196.43 441.96,198.86 442.42,201.16 442.88,203.33 443.34,205.36 443.80,207.25 444.26,208.99 444.72,210.58 445.18,212.01 445.64,213.28 446.10,214.38 446.56,215.31 447.02,216.05 447.48,216.62 447.94,216.99 448.40,217.17 448.86,217.15 449.32,216.93 449.78,216.52 450.24,215.93 450.70,215.15 451.16,214.19 451.62,213.06 452.08,211.77 452.54,210.31 453.00,208.69 453.46,206.92 453.92,205.00 454.38,202.94 454.84,200.74 455.30,198.40 455.76,195.94 456.22,193.35 456.68,190.65 457.14,187.83 457.60,184.90 458.06,181.87 458.52,178.74 458.98,175.51 459.44,172.20 459.90,168.80 460.36,165.32 460.82,161.77 461.28,158.14 461.74,154.46 462.20,150.71 462.66,146.90 463.12,143.05 463.58,139.17 464.04,135.30 464.50,131.44 464.96,127.60 465.42,123.78 465.88,119.99 466.34,116.24 466.80,112.53 467.26,108.87 467.72,105.27 468.18,101.73 468.64,98.25 469.10,94.85 469.56,91.53 470.02,88.29 470.48,85.15 470.94,82.11 471.40,79.17 471.86,76.34 472.32,73.63 472.78,71.05 473.24,68.59 473.70,66.28 474.16,64.10 474.62,62.07 475.08,60.20 475.54,58.49 476.00,56.95 476.46,55.58 476.92,54.39 477.38,53.38 477.84,52.57 478.30,51.96 478.76,51.56 479.22,51.36 479.68,51.39 480.14,51.67 480.60,52.20 481.06,52.96 481.52,53.96 481.98,55.18 482.44,56.62 482.90,58.26 483.36,60.11 483.82,62.15 484.28,64.38 484.74,66.78 485.20,69.35 485.66,72.09 486.12,74.98 486.58,78.02 487.04,81.20 487.50,84.51 487.96,87.94 488.42,91.49 488.88,95.15 489.34,98.92 489.80,102.77 490.26,106.71 490.72,110.73 491.18,114.82 491.64,118.98 492.10,123.19 492.56,127.45 493.02,131.74 493.48,136.07 493.94,140.43 494.40,144.80 494.86,149.13 495.32,153.41 495.78,157.62 496.24,161.77 496.70,165.83 497.16,169.81 497.62,173.69 498.08,177.46 498.54,181.13 499.00,184.67 499.46,188.08 499.92,191.35 500.38,194.48 500.84,197.45 501.30,200.26 501.76,202.90 502.22,205.35 502.68,207.62 503.14,209.69 503.60,211.55 504.06,213.21 504.52,214.63 504.98,215.83 505.44,216.79 505.90,217.50 506.36,217.95 506.82,218.14 507.28,218.08 507.74,217.81 508.20,217.34 508.66,216.67 509.12,215.82 509.58,214.77 510.04,213.55 510.50,212.15 510.96,210.59 511.42,208.86 511.88,206.98 512.34,204.94 512.80,202.76 513.26,200.43 513.72,197.97 514.18,195.38 514.64,192.66 515.10,189.83 515.56,186.88 516.02,183.82 516.48,180.66 516.94,177.41 517.40,174.06 517.86,170.62 518.32,167.11 518.78,163.51 519.24,159.85 519.70,156.13 520.16,152.34 520.62,148.50 521.08,144.62 521.54,140.70 522.00,136.78 522.46,132.88 522.92,129.00 523.38,125.14 523.84,121.31 524.30,117.53 524.76,113.79 525.22,110.10 525.68,106.46 526.14,102.89 526.60,99.38 527.06,95.95 527.52,92.60 527.98,89.34 528.44,86.16 528.90,83.09 529.36,80.12 529.82,77.26 530.28,74.52 530.74,71.90 531.20,69.40 531.66,67.04 532.12,64.83 532.58,62.76 533.04,60.84 533.50,59.08 533.96,57.48 534.42,56.05 534.88,54.80 535.34,53.74 535.80,52.86 536.26,52.17 536.72,51.69 537.18,51.41 537.64,51.35 538.10,51.52 538.56,51.94 539.02,52.59 539.48,53.47 539.94,54.57 540.40,55.89 540.86,57.41 541.32,59.13 541.78,61.04 542.24,63.14 542.70,65.42 543.16,67.86 543.62,70.47 544.08,73.23 544.54,76.15 545.00,79.20 545.46,82.39 545.92,85.70 546.38,89.13 546.84,92.68 547.30,96.33 547.76,100.08 548.22,103.91 548.68,107.83 549.14,111.83 549.60,115.90 550.06,120.02 550.52,124.20 550.98,128.43 551.44,132.69 551.90,136.99 552.36,141.32 552.82,145.65 553.28,149.94 553.74,154.18 554.20,158.35 554.66,162.46 555.12,166.49 555.58,170.43 556.04,174.27 556.50,178.01 556.96,181.64 557.42,185.14 557.88,188.52 558.34,191.76 558.80,194.85 559.26,197.79 559.72,200.56 560.18,203.16 560.64,205.57 561.10,207.80 561.56,209.83 562.02,211.65 562.48,213.26 562.94,214.65 563.40,215.80 563.86,216.71 564.32,217.37 564.78,217.77 565.24,217.91 565.70,217.80 566.16,217.47 566.62,216.94 567.08,216.20 567.54,215.27 568.00,214.14 568.46,212.83 568.92,211.34 569.38,209.68 569.84,207.85 570.30,205.86 570.76,203.72 571.22,201.42 571.68,198.98 572.14,196.41 572.60,193.70 573.06,190.87 573.52,187.92 573.98,184.86 574.44,181.69 574.90,178.42 575.36,175.05 575.82,171.59 576.28,168.06 576.74,164.44 577.20,160.75 577.66,157.00 578.12,153.19 578.58,149.33 579.04,145.42 579.50,141.47 579.96,137.52 580.42,133.59 580.88,129.68 581.34,125.80 581.80,121.96 582.26,118.15 582.72,114.39 583.18,110.68 583.64,107.03 584.10,103.44 584.56,99.92 585.02,96.47 585.48,93.10 585.94,89.82 586.40,86.64 586.86,83.55 587.32,80.57 587.78,77.69 588.24,74.93 588.70,72.30 589.16,69.79 589.62,67.41 590.08,65.18 590.54,63.08 591.00,61.14 591.46,59.36 591.92,57.74 592.38,56.29 592.84,55.01 593.30,53.92 593.76,53.01 594.22,52.29 594.68,51.77 595.14,51.45 595.60,51.34 596.06,51.47 596.52,51.84 596.98,52.46 597.44,53.31 597.90,54.38 598.36,55.67 598.82,57.17 599.28,58.88 599.74,60.78 600.20,62.87 600.66,65.14 601.12,67.58 601.58,70.19 602.04,72.96 602.50,75.88 602.96,78.94 603.42,82.13 603.88,85.46 604.34,88.91 604.80,92.47 605.26,96.13 605.72,99.90 606.18,103.75 606.64,107.69 607.10,111.70 607.56,115.79 608.02,119.93 608.48,124.13 608.94,128.37 609.40,132.66 609.86,136.97 610.32,141.31 610.78,145.65 611.24,149.96 611.70,154.20 612.16,158.39 612.62,162.50 613.08,166.53 613.54,170.48 614.00,174.32 614.46,178.07 614.92,181.69 615.38,185.20 615.84,188.57 616.30,191.81 616.76,194.90 617.22,197.83 617.68,200.60 618.14,203.19 618.60,205.61 619.06,207.83 619.52,209.85 619.98,211.67 620.44,213.28 620.90,214.66 621.36,215.80 621.82,216.71 622.28,217.37 622.74,217.77 623.20,217.91 623.66,217.79 624.12,217.46 624.58,216.91 625.04,216.15 625.50,215.18 625.96,214.02 626.42,212.67 626.88,211.13 627.34,209.42 627.80,207.54 628.26,205.49 628.72,203.28 629.18,200.93 629.64,198.42 630.10,195.78 630.56,193.01 631.02,190.10 631.48,187.08 631.94,183.95 632.40,180.71 632.86,177.37 633.32,173.94 633.78,170.41 634.24,166.81 634.70,163.13 635.16,159.39 635.62,155.58 636.08,151.71 636.54,147.80 637.00,143.85 637.46,139.87 637.92,135.91 638.38,131.97 638.84,128.05 639.30,124.17 639.76,120.33 640.22,116.53 640.68,112.78 641.14,109.08 641.60,105.45 642.06,101.89 642.52,98.39 642.98,94.98 643.44,91.65 643.90,88.41 644.36,85.27 644.82,82.23 645.28,79.29 645.74,76.47 646.20,73.77 646.66,71.19 647.12,68.74 647.58,66.43 648.04,64.26 648.50,62.23 648.96,60.36 649.42,58.65 649.88,57.11 650.34,55.73 650.80,54.53 651.26,53.52 651.72,52.69 652.18,52.05 652.64,51.61 653.10,51.38 653.56,51.37 654.02,51.62 654.48,52.15 654.94,52.95 655.40,54.01 655.86,55.31 656.32,56.85 656.78,58.62 657.24,60.60 657.70,62.80 658.16,65.20 658.62,67.78 659.08,70.55 659.54,73.49 660.00,76.59 660.46,79.84 660.92,83.23 661.38,86.76 661.84,90.41 662.30,94.18 662.76,98.05 663.22,102.01 663.68,106.06 664.14,110.19 664.60,114.38 665.06,118.64 665.52,122.93 665.98,127.27 666.44,131.64 666.90,136.02 667.36,140.41 667.82,144.80 668.28,149.14 668.74,153.40 669.20,157.59 669.66,161.69 670.12,165.70 670.58,169.61 671.04,173.43 671.50,177.13 671.96,180.71 672.42,184.17 672.88,187.50 673.34,190.69 673.80,193.74 674.26,196.64 674.72,199.39 675.18,201.97 675.64,204.39 676.10,206.62 676.56,208.68 677.02,210.55 677.48,212.22 677.94,213.69 678.40,214.95"/>
<polyline stroke="#35dd35" points="402.40,140.64 402.86,138.85 403.32,136.98 403.78,135.03 404.24,133.00 404.70,130.92 405.16,128.78 405.62,126.58 406.08,124.35 406.54,122.08 407.00,119.78 407.46,117.46 407.92,115.12 408.38,112.78 408.84,110.43 409.30,108.09 409.76,105.77 410.22,103.46 410.68,101.19 411.14,98.94 411.60,96.74 412.06,94.59 412.52,92.49 412.98,90.45 413.44,88.49 413.90,86.59 414.36,84.79 414.82,83.07 415.28,81.45 415.74,79.93 416.20,78.53 416.66,77.24 417.12,76.08 417.58,75.05 418.04,74.16 418.50,73.42 418.96,72.83 419.42,72.40 419.88,72.13 420.34,72.04 420.80,72.16 421.26,72.52 421.72,73.10 422.18,73.89 422.64,74.90 423.10,76.11 423.56,77.51 424.02,79.09 424.48,80.86 424.94,82.79 425.40,84.89 425.86,87.13 426.32,89.52 426.78,92.05 427.24,94.71 427.70,97.49 428.16,100.38 428.62,103.37 429.08,106.46 429.54,109.64 430.00,112.90 430.46,116.23 430.92,119.62 431.38,123.07 431.84,126.57 432.30,130.11 432.76,133.68 433.22,137.27 433.68,140.88 434.14,144.49 434.60,148.07 435.06,151.60 435.52,155.08 435.98,158.50 436.44,161.87 436.90,165.16 437.36,168.38 437.82,171.53 438.28,174.60 438.74,177.58 439.20,180.46 439.66,183.25 440.12,185.94 440.58,188.53 441.04,191.00 441.50,193.36 441.96,195.59 442.42,197.70 442.88,199.68 443.34,201.52 443.80,203.22 444.26,204.78 444.72,206.18 445.18,207.43 445.64,208.52 446.10,209.44 446.56,210.19 447.02,210.77 447.48,211.16 447.94,211.37 448.40,211.40 448.86,211.25 449.32,210.93 449.78,210.46 450.24,209.83 450.70,209.05 451.16,208.12 451.62,207.04 452.08,205.83 452.54,204.47 453.00,202.98 453.46,201.35 453.92,199.60 454.38,197.72 454.84,195.73 455.30,193.61 455.76,191.38 456.22,189.04 456.68,186.59 457.14,184.04 457.60,181.39 458.06,178.65 458.52,175.80 458.98,172.87 459.44,169.86 459.90,166.76 460.36,163.58 460.82,160.33 461.28,157.00 461.74,153.61 462.20,150.15 462.66,146.63 463.12,143.05 463.58,139.44 464.04,135.82 464.50,132.20 464.96,128.59 465.42,124.99 465.88,121.41 466.34,117.85 466.80,114.33 467.26,110.85 467.72,107.42 468.18,104.03 468.64,100.71 469.10,97.45 469.56,94.26 470.02,91.16 470.48,88.14 470.94,85.21 471.40,82.37 471.86,79.65 472.32,77.03 472.78,74.54 473.24,72.16 473.70,69.92 474.16,67.82 474.62,65.86 475.08,64.06 475.54,62.41 476.00,60.92 476.46,59.61 476.92,58.47 477.38,57.52 477.84,56.76 478.30,56.19 478.76,55.83 479.22,55.68 479.68,55.75 480.14,56.07 480.60,56.61 481.06,57.39 481.52,58.38 481.98,59.58 482.44,60.98 482.90,62.58 483.36,64.37 483.82,66.35 484.28,68.49 484.74,70.80 485.20,73.27 485.66,75.89 486.12,78.66 486.58,81.56 487.04,84.59 487.50,87.75 487.96,91.02 488.42,94.40 488.88,97.87 489.34,101.44 489.80,105.09 490.26,108.83 490.72,112.63 491.18,116.49 491.64,120.41 492.10,124.38 492.56,128.39 493.02,132.44 493.48,136.50 493.94,140.59 494.40,144.69 494.86,148.74 495.32,152.74 495.78,156.67 496.24,160.53 496.70,164.30 497.16,167.99 497.62,171.58 498.08,175.07 498.54,178.44 499.00,181.70 499.46,184.83 499.92,187.82 500.38,190.67 500.84,193.37 501.30,195.90 501.76,198.28 502.22,200.48 502.68,202.49 503.14,204.32 503.60,205.94 504.06,207.37 504.52,208.58 504.98,209.56 505.44,210.32 505.90,210.84 506.36,211.12 506.82,211.15 507.28,211.00 507.74,210.67 508.20,210.18 508.66,209.52 509.12,208.71 509.58,207.74 510.04,206.62 510.50,205.35 510.96,203.94 511.42,202.39 511.88,200.70 512.34,198.89 512.80,196.94 513.26,194.87 513.72,192.68 514.18,190.38 514.64,187.96 515.10,185.44 515.56,182.81 516.02,180.08 516.48,177.25 516.94,174.33 517.40,171.32 517.86,168.22 518.32,165.05 518.78,161.79 519.24,158.47 519.70,155.07 520.16,151.61 520.62,148.08 521.08,144.50 521.54,140.87 522.00,137.23 522.46,133.59 522.92,129.96 523.38,126.34 523.84,122.74 524.30,119.16 524.76,115.62 525.22,112.12 525.68,108.66 526.14,105.25 526.60,101.90 527.06,98.61 527.52,95.40 527.98,92.26 528.44,89.21 528.90,86.25 529.36,83.38 529.82,80.62 530.28,77.97 530.74,75.43 531.20,73.02 531.66,70.73 532.12,68.58 532.58,66.57 533.04,64.71 533.50,63.01 533.96,61.46 534.42,60.09 534.88,58.89 535.34,57.86 535.80,57.03 536.26,56.39 536.72,55.95 537.18,55.71 537.64,55.69 538.10,55.91 538.56,56.35 539.02,57.01 539.48,57.89 539.94,58.98 540.40,60.27 540.86,61.75 541.32,63.42 541.78,65.28 542.24,67.30 542.70,69.49 543.16,71.84 543.62,74.34 544.08,76.99 544.54,79.77 545.00,82.69 545.46,85.73 545.92,88.89 546.38,92.15 546.84,95.52 547.30,98.99 547.76,102.54 548.22,106.18 548.68,109.89 549.14,113.67 549.60,117.51 550.06,121.40 550.52,125.34 550.98,129.32 551.44,133.33 551.90,137.37 552.36,141.42 552.82,145.48 553.28,149.50 553.74,153.45 554.20,157.34 554.66,161.16 555.12,164.90 555.58,168.56 556.04,172.11 556.50,175.56 556.96,178.90 557.42,182.12 557.88,185.22 558.34,188.17 558.80,190.99 559.26,193.65 559.72,196.15 560.18,198.49 560.64,200.65 561.10,202.63 561.56,204.41 562.02,206.00 562.48,207.38 562.94,208.55 563.40,209.49 563.86,210.20 564.32,210.68 564.78,210.91 565.24,210.89 565.70,210.69 566.16,210.32 566.62,209.77 567.08,209.05 567.54,208.17 568.00,207.13 568.46,205.93 568.92,204.58 569.38,203.08 569.84,201.45 570.30,199.67 570.76,197.76 571.22,195.71 571.68,193.55 572.14,191.26 572.60,188.85 573.06,186.33 573.52,183.70 573.98,180.97 574.44,178.14 574.90,175.21 575.36,172.19 575.82,169.08 576.28,165.89 576.74,162.62 577.20,159.27 577.66,155.86 578.12,152.38 578.58,148.84 579.04,145.24 579.50,141.59 579.96,137.92 580.42,134.26 580.88,130.61 581.34,126.97 581.80,123.35 582.26,119.76 582.72,116.20 583.18,112.68 583.64,109.21 584.10,105.79 584.56,102.43 585.02,99.13 585.48,95.90 585.94,92.75 586.40,89.69 586.86,86.71 587.32,83.83 587.78,81.05 588.24,78.39 588.70,75.83 589.16,73.40 589.62,71.10 590.08,68.93 590.54,66.90 591.00,65.02 591.46,63.29 591.92,61.72 592.38,60.32 592.84,59.09 593.30,58.04 593.76,57.17 594.22,56.50 594.68,56.02 595.14,55.74 595.60,55.68 596.06,55.85 596.52,56.25 596.98,56.88 597.44,57.73 597.90,58.79 598.36,60.06 598.82,61.52 599.28,63.18 599.74,65.02 600.20,67.04 600.66,69.22 601.12,71.57 601.58,74.07 602.04,76.73 602.50,79.52 602.96,82.44 603.42,85.49 603.88,88.66 604.34,91.94 604.80,95.32 605.26,98.80 605.72,102.37 606.18,106.02 606.64,109.75 607.10,113.55 607.56,117.41 608.02,121.32 608.48,125.27 608.94,129.27 609.40,133.30 609.86,137.35 610.32,141.42 610.78,145.49 611.24,149.51 611.70,153.48 612.16,157.38 612.62,161.21 613.08,164.95 613.54,168.61 614.00,172.16 614.46,175.62 614.92,178.96 615.38,182.18 615.84,185.27 616.30,188.22 616.76,191.03 617.22,193.69 617.68,196.19 618.14,198.52 618.60,200.68 619.06,202.65 619.52,204.43 619.98,206.02 620.44,207.39 620.90,208.56 621.36,209.50 621.82,210.21 622.28,210.68 622.74,210.91 623.20,210.89 623.66,210.69 624.12,210.30 624.58,209.73 625.04,208.99 625.50,208.08 625.96,207.00 626.42,205.77 626.88,204.38 627.34,202.84 627.80,201.15 628.26,199.32 628.72,197.35 629.18,195.25 629.64,193.03 630.10,190.68 630.56,188.21 631.02,185.63 631.48,182.94 631.94,180.14 632.40,177.25 632.86,174.25 633.32,171.17 633.78,168.00 634.24,164.75 634.70,161.42 635.16,158.02 635.62,154.55 636.08,151.02 636.54,147.43 637.00,143.79 637.46,140.10 637.92,136.42 638.38,132.75 638.84,129.09 639.30,125.44 639.76,121.82 640.22,118.24 640.68,114.69 641.14,111.18 641.60,107.72 642.06,104.32 642.52,100.98 642.98,97.71 643.44,94.52 643.90,91.41 644.36,88.38 644.82,85.44 645.28,82.61 645.74,79.88 646.20,77.27 646.66,74.77 647.12,72.39 647.58,70.15 648.04,68.05 648.50,66.08 648.96,64.27 649.42,62.61 649.88,61.12 650.34,59.79 650.80,58.63 651.26,57.66 651.72,56.87 652.18,56.28 652.64,55.88 653.10,55.69 653.56,55.73 654.02,56.02 654.48,56.58 654.94,57.38 655.40,58.43 655.86,59.71 656.32,61.22 656.78,62.94 657.24,64.86 657.70,66.98 658.16,69.29 658.62,71.77 659.08,74.43 659.54,77.24 660.00,80.20 660.46,83.31 660.92,86.54 661.38,89.90 661.84,93.37 662.30,96.95 662.76,100.62 663.22,104.38 663.68,108.22 664.14,112.12 664.60,116.08 665.06,120.09 665.52,124.15 665.98,128.23 666.44,132.34 666.90,136.46 667.36,140.58 667.82,144.69 668.28,148.75 668.74,152.73 669.20,156.63 669.66,160.45 670.12,164.17 670.58,167.80 671.04,171.32 671.50,174.74 671.96,178.04 672.42,181.22 672.88,184.27 673.34,187.18 673.80,189.96 674.26,192.59 674.72,195.08 675.18,197.40 675.64,199.56 676.10,201.56 676.56,203.37 677.02,205.01 677.48,206.46 677.94,207.72 678.40,208.78"/>
<polyline stroke="#3a3aff" points="402.40,140.64 402.86,138.91 403.32,137.10 403.78,135.21 404.24,133.25 404.70,131.22 405.16,129.14 405.62,127.01 406.08,124.83 406.54,122.63 407.00,120.39 407.46,118.13 407.92,115.87 408.38,113.59 408.84,111.31 409.30,109.05 409.76,106.79 410.22,104.56 410.68,102.36 411.14,100.20 411.60,98.08 412.06,96.00 412.52,93.99 412.98,92.04 413.44,90.17 413.90,88.37 414.36,86.66 414.82,85.04 415.28,83.52 415.74,82.11 416.20,80.81 416.66,79.64 417.12,78.59 417.58,77.68 418.04,76.91 418.50,76.30 418.96,75.84 419.42,75.54 419.88,75.42 420.34,75.48 420.80,75.76 421.26,76.25 421.72,76.93 422.18,77.81 422.64,78.87 423.10,80.12 423.56,81.53 424.02,83.10 424.48,84.83 424.94,86.71 425.40,88.73 425.86,90.89 426.32,93.17 426.78,95.57 427.24,98.09 427.70,100.71 428.16,103.42 428.62,106.23 429.08,109.12 429.54,112.09 430.00,115.13 430.46,118.23 430.92,121.38 431.38,124.59 431.84,127.83 432.30,131.10 432.76,134.40 433.22,137.72 433.68,141.05 434.14,144.38 434.60,147.67 435.06,150.92 435.52,154.11 435.98,157.24 436.44,160.31 436.90,163.31 437.36,166.24 437.82,169.09 438.28,171.86 438.74,174.53 439.20,177.12 439.66,179.60 440.12,181.99 440.58,184.26 441.04,186.42 441.50,188.47 441.96,190.39 442.42,192.18 442.88,193.84 443.34,195.36 443.80,196.74 444.26,197.97 444.72,199.04 445.18,199.96 445.64,200.72 446.10,201.31 446.56,201.72 447.02,201.96 447.48,202.02 447.94,201.94 448.40,201.74 448.86,201.43 449.32,201.01 449.78,200.48 450.24,199.84 450.70,199.09 451.16,198.23 451.62,197.27 452.08,196.20 452.54,195.03 453.00,193.76 453.46,192.40 453.92,190.93 454.38,189.36 454.84,187.70 455.30,185.95 455.76,184.10 456.22,182.16 456.68,180.14 457.14,178.02 457.60,175.81 458.06,173.52 458.52,171.15 458.98,168.69 459.44,166.15 459.90,163.53 460.36,160.83 460.82,158.05 461.28,155.20 461.74,152.27 462.20,149.27 462.66,146.19 463.12,143.05 463.58,139.85 464.04,136.63 464.50,133.38 464.96,130.13 465.42,126.86 465.88,123.60 466.34,120.34 466.80,117.10 467.26,113.88 467.72,110.70 468.18,107.55 468.64,104.44 469.10,101.38 469.56,98.39 470.02,95.45 470.48,92.60 470.94,89.82 471.40,87.13 471.86,84.53 472.32,82.03 472.78,79.65 473.24,77.38 473.70,75.23 474.16,73.21 474.62,71.33 475.08,69.60 475.54,68.02 476.00,66.59 476.46,65.34 476.92,64.25 477.38,63.35 477.84,62.64 478.30,62.12 478.76,61.80 479.22,61.69 479.68,61.81 480.14,62.15 480.60,62.71 481.06,63.48 481.52,64.46 481.98,65.63 482.44,66.99 482.90,68.54 483.36,70.26 483.82,72.14 484.28,74.18 484.74,76.38 485.20,78.72 485.66,81.20 486.12,83.81 486.58,86.54 487.04,89.39 487.50,92.34 487.96,95.39 488.42,98.54 488.88,101.77 489.34,105.08 489.80,108.46 490.26,111.91 490.72,115.41 491.18,118.95 491.64,122.54 492.10,126.16 492.56,129.81 493.02,133.48 493.48,137.16 493.94,140.84 494.40,144.52 494.86,148.14 495.32,151.69 495.78,155.17 496.24,158.57 496.70,161.88 497.16,165.10 497.62,168.22 498.08,171.24 498.54,174.14 499.00,176.93 499.46,179.60 499.92,182.14 500.38,184.54 500.84,186.81 501.30,188.92 501.76,190.89 502.22,192.69 502.68,194.33 503.14,195.80 503.60,197.10 504.06,198.21 504.52,199.13 504.98,199.86 505.44,200.39 505.90,200.71 506.36,200.82 506.82,200.75 507.28,200.56 507.74,200.24 508.20,199.79 508.66,199.23 509.12,198.54 509.58,197.73 510.04,196.81 510.50,195.77 510.96,194.61 511.42,193.35 511.88,191.97 512.34,190.49 512.80,188.90 513.26,187.21 513.72,185.41 514.18,183.52 514.64,181.52 515.10,179.43 515.56,177.25 516.02,174.97 516.48,172.60 516.94,170.15 517.40,167.60 517.86,164.97 518.32,162.26 518.78,159.47 519.24,156.59 519.70,153.64 520.16,150.61 520.62,147.51 521.08,144.34 521.54,141.10 522.00,137.84 522.46,134.55 522.92,131.25 523.38,127.95 523.84,124.65 524.30,121.35 524.76,118.08 525.22,114.82 525.68,111.60 526.14,108.41 526.60,105.27 527.06,102.18 527.52,99.15 527.98,96.18 528.44,93.29 528.90,90.48 529.36,87.76 529.82,85.12 530.28,82.60 530.74,80.18 531.20,77.87 531.66,75.69 532.12,73.64 532.58,71.72 533.04,69.95 533.50,68.34 533.96,66.88 534.42,65.58 534.88,64.46 535.34,63.52 535.80,62.77 536.26,62.21 536.72,61.85 537.18,61.70 537.64,61.76 538.10,62.05 538.56,62.55 539.02,63.25 539.48,64.14 539.94,65.23 540.40,66.51 540.86,67.96 541.32,69.58 541.78,71.36 542.24,73.30 542.70,75.39 543.16,77.62 543.62,79.99 544.08,82.49 544.54,85.10 545.00,87.84 545.46,90.68 545.92,93.62 546.38,96.66 546.84,99.78 547.30,102.99 547.76,106.27 548.22,109.61 548.68,113.02 549.14,116.48 549.60,119.98 550.06,123.53 550.52,127.10 550.98,130.70 551.44,134.33 551.90,137.96 552.36,141.60 552.82,145.22 553.28,148.79 553.74,152.30 554.20,155.73 554.66,159.09 555.12,162.36 555.58,165.54 556.04,168.62 556.50,171.60 556.96,174.47 557.42,177.23 557.88,179.87 558.34,182.37 558.80,184.75 559.26,186.98 559.72,189.06 560.18,191.00 560.64,192.77 561.10,194.38 561.56,195.82 562.02,197.08 562.48,198.16 562.94,199.05 563.40,199.74 563.86,200.23 564.32,200.51 564.78,200.57 565.24,200.48 565.70,200.25 566.16,199.89 566.62,199.40 567.08,198.78 567.54,198.04 568.00,197.17 568.46,196.19 568.92,195.08 569.38,193.86 569.84,192.52 570.30,191.07 570.76,189.51 571.22,187.84 571.68,186.06 572.14,184.19 572.60,182.21 573.06,180.13 573.52,177.95 573.98,175.67 574.44,173.31 574.90,170.85 575.36,168.30 575.82,165.67 576.28,162.95 576.74,160.15 577.20,157.27 577.66,154.32 578.12,151.28 578.58,148.17 579.04,144.99 579.50,141.75 579.96,138.47 580.42,135.17 580.88,131.86 581.34,128.54 581.80,125.23 582.26,121.92 582.72,118.64 583.18,115.37 583.64,112.14 584.10,108.94 584.56,105.79 585.02,102.69 585.48,99.65 585.94,96.67 586.40,93.77 586.86,90.94 587.32,88.20 587.78,85.56 588.24,83.02 588.70,80.58 589.16,78.26 589.62,76.06 590.08,73.99 590.54,72.05 591.00,70.26 591.46,68.62 591.92,67.13 592.38,65.81 592.84,64.66 593.30,63.68 593.76,62.90 594.22,62.30 594.68,61.90 595.14,61.71 595.60,61.73 596.06,61.98 596.52,62.44 596.98,63.11 597.44,63.98 597.90,65.05 598.36,66.30 598.82,67.74 599.28,69.34 599.74,71.12 600.20,73.05 600.66,75.14 601.12,77.37 601.58,79.74 602.04,82.24 602.50,84.86 602.96,87.60 603.42,90.45 603.88,93.41 604.34,96.46 604.80,99.60 605.26,102.82 605.72,106.11 606.18,109.47 606.64,112.89 607.10,116.37 607.56,119.89 608.02,123.45 608.48,127.04 608.94,130.66 609.40,134.29 609.86,137.94 610.32,141.59 610.78,145.23 611.24,148.81 611.70,152.32 612.16,155.76 612.62,159.12 613.08,162.40 613.54,165.58 614.00,168.67 614.46,171.65 614.92,174.52 615.38,177.27 615.84,179.91 616.30,182.41 616.76,184.78 617.22,187.01 617.68,189.10 618.14,191.03 618.60,192.80 619.06,194.40 619.52,195.84 619.98,197.09 620.44,198.17 620.90,199.05 621.36,199.74 621.82,200.23 622.28,200.51 622.74,200.57 623.20,200.48 623.66,200.24 624.12,199.87 624.58,199.36 625.04,198.72 625.50,197.95 625.96,197.06 626.42,196.04 626.88,194.90 627.34,193.64 627.80,192.26 628.26,190.77 628.72,189.16 629.18,187.44 629.64,185.62 630.10,183.69 630.56,181.66 631.02,179.53 631.48,177.29 631.94,174.97 632.40,172.54 632.86,170.03 633.32,167.43 633.78,164.74 634.24,161.97 634.70,159.12 635.16,156.18 635.62,153.17 636.08,150.09 636.54,146.93 637.00,143.70 637.46,140.42 637.92,137.12 638.38,133.80 638.84,130.48 639.30,127.15 639.76,123.83 640.22,120.53 640.68,117.24 641.14,113.99 641.60,110.76 642.06,107.58 642.52,104.45 642.98,101.37 643.44,98.36 643.90,95.41 644.36,92.54 644.82,89.75 645.28,87.06 645.74,84.46 646.20,81.96 646.66,79.58 647.12,77.31 647.58,75.16 648.04,73.15 648.50,71.28 648.96,69.55 649.42,67.98 649.88,66.56 650.34,65.31 650.80,64.23 651.26,63.34 651.72,62.63 652.18,62.11 652.64,61.80 653.10,61.69 653.56,61.82 654.02,62.19 654.48,62.81 654.94,63.65 655.40,64.71 655.86,65.99 656.32,67.47 656.78,69.14 657.24,71.00 657.70,73.04 658.16,75.24 658.62,77.60 659.08,80.12 659.54,82.77 660.00,85.55 660.46,88.46 660.92,91.49 661.38,94.61 661.84,97.84 662.30,101.15 662.76,104.54 663.22,108.00 663.68,111.53 664.14,115.10 664.60,118.72 665.06,122.37 665.52,126.05 665.98,129.75 666.44,133.45 666.90,137.15 667.36,140.84 667.82,144.51 668.28,148.11 668.74,151.63 669.20,155.06 669.66,158.41 670.12,161.65 670.58,164.80 671.04,167.85 671.50,170.78 671.96,173.61 672.42,176.32 672.88,178.91 673.34,181.37 673.80,183.71 674.26,185.92 674.72,187.98 675.18,189.91 675.64,191.69 676.10,193.32 676.56,194.80 677.02,196.12 677.48,197.28 677.94,198.27 678.40,199.09"/>
</g>
<path d="M402.40 263.40v-2.7M402.40 22.70v2.7M448.40 263.40v-2.7M448.40 22.70v2.7M494.40 263.40v-2.7M494.40 22.70v2.7M540.40 263.40v-2.7M540.40 22.70v2.7M586.40 263.40v-2.7M586.40 22.70v2.7M632.40 263.40v-2.7M632.40 22.70v2.7M678.40 263.40v-2.7M678.40 22.70v2.7M402.40 263.40h2.7M678.40 263.40h-2.7M402.40 239.33h2.7M678.40 239.33h-2.7M402.40 215.26h2.7M678.40 215.26h-2.7M402.40 191.19h2.7M678.40 191.19h-2.7M402.40 167.12h2.7M678.40 167.12h-2.7M402.40 143.05h2.7M678.40 143.05h-2.7M402.40 118.98h2.7M678.40 118.98h-2.7M402.40 94.91h2.7M678.40 94.91h-2.7M402.40 70.84h2.7M678.40 70.84h-2.7M402.40 46.77h2.7M678.40 46.77h-2.7M402.40 22.70h2.7M678.40 22.70h-2.7" stroke="#555" stroke-width="1.0" fill="none"/>
<rect x="402.4" y="22.7" width="276.00" height="240.70" fill="none" stroke="#5c5c5c" stroke-width="1.3"/>
<g class="t" font-size="10.1">
<text id="Rx0" x="402.40" y="278.1" text-anchor="middle">0</text>
<text id="Rx1" x="448.40" y="278.1" text-anchor="middle">5</text>
<text id="Rx2" x="494.40" y="278.1" text-anchor="middle"> 0</text>
<text id="Rx3" x="540.40" y="278.1" text-anchor="middle"> 5</text>
<text id="Rx4" x="586.40" y="278.1" text-anchor="middle">20</text>
<text id="Rx5" x="632.40" y="278.1" text-anchor="middle">25</text>
<text id="Rx6" x="678.40" y="278.1" text-anchor="middle">30</text>
<text id="Ry0" x="398.30" y="267.50" text-anchor="end">-5</text>
<text id="Ry1" x="398.30" y="243.43" text-anchor="end">-4</text>
<text id="Ry2" x="398.30" y="219.36" text-anchor="end">-3</text>
<text id="Ry3" x="398.30" y="195.29" text-anchor="end">-2</text>
<text id="Ry4" x="398.30" y="171.22" text-anchor="end">- </text>
<text id="Ry5" x="398.30" y="147.15" text-anchor="end">0</text>
<text id="Ry6" x="398.30" y="123.08" text-anchor="end"> </text>
<text id="Ry7" x="398.30" y="99.01" text-anchor="end">2</text>
<text id="Ry8" x="398.30" y="74.94" text-anchor="end">3</text>
<text id="Ry9" x="398.30" y="50.87" text-anchor="end">4</text>
<text id="Ry10" x="398.30" y="26.80" text-anchor="end">5</text>
</g>
<path d="M403.9 15.3L408.8 20.1M408.8 15.3L403.9 20.1" stroke="#666" stroke-width="0.85" fill="none"/>
<text id="Re" class="t" x="410.6" y="20.5" font-size="11" style="fill:#505050"> 0</text>
<text class="t" x="422.4" y="15.0" font-size="8.2" style="fill:#333">-6</text>
<text class="t" x="540.40" y="292.6" text-anchor="middle" font-size="11.35">Dimensionless time</text>
<text class="t" transform="translate(385.0,143.1) rotate(-90)" text-anchor="middle" font-size="11.9">Displacement in y direction (m)</text>
<rect x="576.8" y="26.5" width="98.30" height="61.40" fill="#fff" stroke="#555" stroke-width="1.2"/>
<g class="t" font-size="11.8">
<line x1="579.0" x2="602.6" y1="34.7" y2="34.7" stroke="#ff3a3a" stroke-width="1.5"/>
<text id="Rl0" x="604.6" y="39.00">Without AL</text>
<line x1="579.0" x2="602.6" y1="49.6" y2="49.6" stroke="#383838" stroke-width="1.5"/>
<text id="Rl1" x="604.6" y="53.90"><tspan font-style="italic" font-size=" 2.98">C</tspan><tspan dx="-0.8">rsqu=30μm</tspan></text>
<line x1="579.0" x2="602.6" y1="64.5" y2="64.5" stroke="#35dd35" stroke-width="1.5"/>
<text id="Rl2" x="604.6" y="68.80"><tspan font-style="italic" font-size=" 2.98">C</tspan><tspan dx="-0.8">rsqu=20μm</tspan></text>
<line x1="579.0" x2="602.6" y1="79.4" y2="79.4" stroke="#3a3aff" stroke-width="1.5"/>
<text id="Rl3" x="604.6" y="83.70"><tspan font-style="italic" font-size=" 2.98">C</tspan><tspan dx="-0.8">rsqu= 5μm</tspan></text>
</g>
<text class="t" x="353.9" y="22.5" font-size="20" style="fill:#111">(b)</text>
<path d="M763 0L583 0L583 1147Q518 1085 412 1022Q307 960 223 929L223 1103Q374 1174 487 1275Q600 1376 647 1466L763 1466Z" transform="translate(137.966,278.600) scale(0.005029,-0.005029)" fill="#1c1c1c" stroke="#1c1c1c" stroke-width="0.22" vector-effect="non-scaling-stroke"/>
<path d="M763 0L583 0L583 1147Q518 1085 412 1022Q307 960 223 929L223 1103Q374 1174 487 1275Q600 1376 647 1466L763 1466Z" transform="translate(185.016,278.600) scale(0.005029,-0.005029)" fill="#1c1c1c" stroke="#1c1c1c" stroke-width="0.22" vector-effect="non-scaling-stroke"/>
<path d="M763 0L583 0L583 1147Q518 1085 412 1022Q307 960 223 929L223 1103Q374 1174 487 1275Q600 1376 647 1466L763 1466Z" transform="translate(39.766,169.160) scale(0.005029,-0.005029)" fill="#1c1c1c" stroke="#1c1c1c" stroke-width="0.22" vector-effect="non-scaling-stroke"/>
<path d="M763 0L583 0L583 1147Q518 1085 412 1022Q307 960 223 929L223 1103Q374 1174 487 1275Q600 1376 647 1466L763 1466Z" transform="translate(39.766,119.840) scale(0.005029,-0.005029)" fill="#1c1c1c" stroke="#1c1c1c" stroke-width="0.22" vector-effect="non-scaling-stroke"/>
<path d="M763 0L583 0L583 1147Q518 1085 412 1022Q307 960 223 929L223 1103Q374 1174 487 1275Q600 1376 647 1466L763 1466Z" transform="translate(57.600,14.800) scale(0.005371,-0.005371)" fill="#505050" stroke="#505050" stroke-width="0.22" vector-effect="non-scaling-stroke"/>
<path d="M763 0L583 0L583 1147Q518 1085 412 1022Q307 960 223 929L223 1103Q374 1174 487 1275Q600 1376 647 1466L763 1466Z" transform="translate(295.825,78.800) scale(0.005957,-0.005957)" fill="#1c1c1c" stroke="#1c1c1c" stroke-width="0.22" vector-effect="non-scaling-stroke"/>
<path d="M763 0L583 0L583 1147Q518 1085 412 1022Q307 960 223 929L223 1103Q374 1174 487 1275Q600 1376 647 1466L763 1466Z" transform="translate(488.783,278.100) scale(0.004932,-0.004932)" fill="#1c1c1c" stroke="#1c1c1c" stroke-width="0.22" vector-effect="non-scaling-stroke"/>
<path d="M763 0L583 0L583 1147Q518 1085 412 1022Q307 960 223 929L223 1103Q374 1174 487 1275Q600 1376 647 1466L763 1466Z" transform="translate(534.783,278.100) scale(0.004932,-0.004932)" fill="#1c1c1c" stroke="#1c1c1c" stroke-width="0.22" vector-effect="non-scaling-stroke"/>
<path d="M763 0L583 0L583 1147Q518 1085 412 1022Q307 960 223 929L223 1103Q374 1174 487 1275Q600 1376 647 1466L763 1466Z" transform="translate(392.675,171.220) scale(0.004932,-0.004932)" fill="#1c1c1c" stroke="#1c1c1c" stroke-width="0.22" vector-effect="non-scaling-stroke"/>
<path d="M763 0L583 0L583 1147Q518 1085 412 1022Q307 960 223 929L223 1103Q374 1174 487 1275Q600 1376 647 1466L763 1466Z" transform="translate(392.675,123.080) scale(0.004932,-0.004932)" fill="#1c1c1c" stroke="#1c1c1c" stroke-width="0.22" vector-effect="non-scaling-stroke"/>
<path d="M763 0L583 0L583 1147Q518 1085 412 1022Q307 960 223 929L223 1103Q374 1174 487 1275Q600 1376 647 1466L763 1466Z" transform="translate(410.600,20.500) scale(0.005371,-0.005371)" fill="#505050" stroke="#505050" stroke-width="0.22" vector-effect="non-scaling-stroke"/>
<path d="M763 0L583 0L583 1147Q518 1085 412 1022Q307 960 223 929L223 1103Q374 1174 487 1275Q600 1376 647 1466L763 1466Z" transform="translate(642.159,83.700) scale(0.005762,-0.005762)" fill="#1c1c1c" stroke="#1c1c1c" stroke-width="0.22" vector-effect="non-scaling-stroke"/>
</g>
</svg>
</body></html>
